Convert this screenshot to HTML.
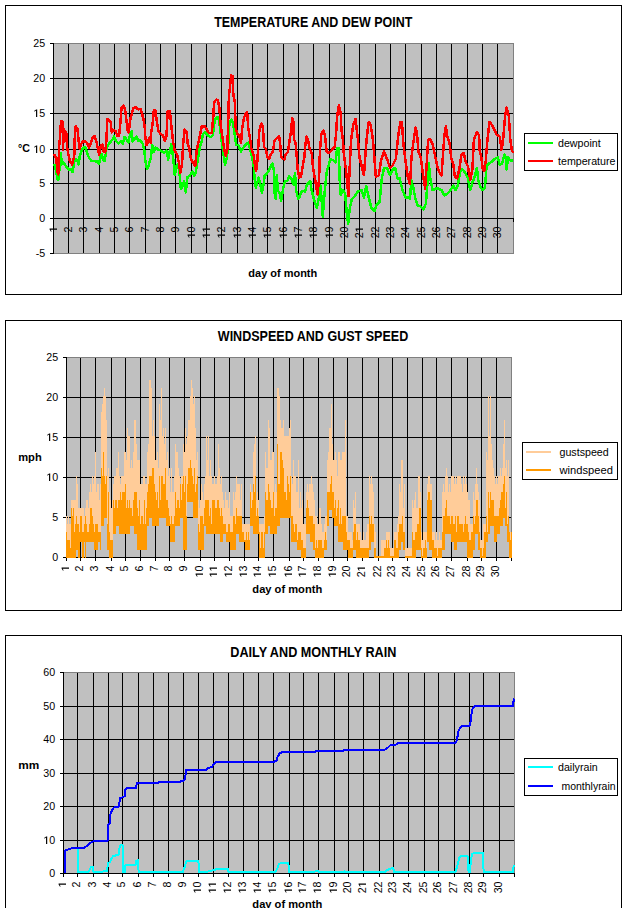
<!DOCTYPE html>
<html><head><meta charset="utf-8"><title>Weather charts</title>
<style>html,body{margin:0;padding:0;background:#fff;width:627px;height:908px;overflow:hidden}svg{display:block}</style>
</head><body>
<svg width="627" height="908" viewBox="0 0 627 908" font-family='"Liberation Sans", sans-serif' shape-rendering="crispEdges">
<rect x="0" y="0" width="627" height="908" fill="#fff"/>
<rect x="5" y="5" width="617" height="1" fill="#000"/>
<rect x="5" y="294" width="617" height="1" fill="#000"/>
<rect x="5" y="5" width="1" height="290" fill="#000"/>
<rect x="621" y="5" width="1" height="290" fill="#000"/>
<rect x="5" y="320" width="617" height="1" fill="#000"/>
<rect x="5" y="610" width="617" height="1" fill="#000"/>
<rect x="5" y="320" width="1" height="291" fill="#000"/>
<rect x="621" y="320" width="1" height="291" fill="#000"/>
<rect x="5" y="635" width="617" height="1" fill="#000"/>
<rect x="5" y="925" width="617" height="1" fill="#000"/>
<rect x="5" y="635" width="1" height="291" fill="#000"/>
<rect x="621" y="635" width="1" height="291" fill="#000"/>
<text x="313.3" y="26.7" font-size="14" font-weight="bold" text-anchor="middle" textLength="198.3" lengthAdjust="spacingAndGlyphs">TEMPERATURE AND DEW POINT</text>
<text x="313.0" y="340.9" font-size="14" font-weight="bold" text-anchor="middle" textLength="190.4" lengthAdjust="spacingAndGlyphs">WINDSPEED AND GUST SPEED</text>
<text x="313.3" y="656.7" font-size="14" font-weight="bold" text-anchor="middle" textLength="166" lengthAdjust="spacingAndGlyphs">DAILY AND MONTHLY RAIN</text>
<rect x="53" y="43" width="461" height="211" fill="#C0C0C0"/>
<rect x="53" y="43" width="461" height="1" fill="#808080"/>
<rect x="53" y="253" width="461" height="1" fill="#808080"/>
<rect x="53" y="43" width="1" height="211" fill="#808080"/>
<rect x="513" y="43" width="1" height="211" fill="#808080"/>
<rect x="54" y="78" width="459" height="1" fill="#000"/>
<rect x="54" y="113" width="459" height="1" fill="#000"/>
<rect x="54" y="149" width="459" height="1" fill="#000"/>
<rect x="54" y="183" width="459" height="1" fill="#000"/>
<rect x="68" y="44" width="1" height="209" fill="#000"/>
<rect x="83" y="44" width="1" height="209" fill="#000"/>
<rect x="99" y="44" width="1" height="209" fill="#000"/>
<rect x="114" y="44" width="1" height="209" fill="#000"/>
<rect x="129" y="44" width="1" height="209" fill="#000"/>
<rect x="145" y="44" width="1" height="209" fill="#000"/>
<rect x="160" y="44" width="1" height="209" fill="#000"/>
<rect x="175" y="44" width="1" height="209" fill="#000"/>
<rect x="191" y="44" width="1" height="209" fill="#000"/>
<rect x="206" y="44" width="1" height="209" fill="#000"/>
<rect x="221" y="44" width="1" height="209" fill="#000"/>
<rect x="237" y="44" width="1" height="209" fill="#000"/>
<rect x="252" y="44" width="1" height="209" fill="#000"/>
<rect x="267" y="44" width="1" height="209" fill="#000"/>
<rect x="283" y="44" width="1" height="209" fill="#000"/>
<rect x="298" y="44" width="1" height="209" fill="#000"/>
<rect x="313" y="44" width="1" height="209" fill="#000"/>
<rect x="329" y="44" width="1" height="209" fill="#000"/>
<rect x="344" y="44" width="1" height="209" fill="#000"/>
<rect x="359" y="44" width="1" height="209" fill="#000"/>
<rect x="375" y="44" width="1" height="209" fill="#000"/>
<rect x="390" y="44" width="1" height="209" fill="#000"/>
<rect x="405" y="44" width="1" height="209" fill="#000"/>
<rect x="421" y="44" width="1" height="209" fill="#000"/>
<rect x="436" y="44" width="1" height="209" fill="#000"/>
<rect x="451" y="44" width="1" height="209" fill="#000"/>
<rect x="467" y="44" width="1" height="209" fill="#000"/>
<rect x="482" y="44" width="1" height="209" fill="#000"/>
<rect x="497" y="44" width="1" height="209" fill="#000"/>
<rect x="53" y="218" width="461" height="1" fill="#000"/>
<rect x="513" y="219" width="1" height="3" fill="#000"/>
<rect x="53" y="43" width="1" height="211" fill="#000"/>
<rect x="50" y="43" width="3" height="1" fill="#000"/>
<rect x="50" y="78" width="3" height="1" fill="#000"/>
<rect x="50" y="113" width="3" height="1" fill="#000"/>
<rect x="50" y="149" width="3" height="1" fill="#000"/>
<rect x="50" y="183" width="3" height="1" fill="#000"/>
<rect x="50" y="218" width="3" height="1" fill="#000"/>
<rect x="50" y="253" width="3" height="1" fill="#000"/>
<g shape-rendering="crispEdges">
<polyline points="53.9,163.8 55.0,166.6 57.7,179.8 58.8,178.7 60.1,156.7 61.0,153.4 61.6,164.4 63.2,162.2 65.4,165.5 67.1,167.7 68.7,169.9 70.9,168.8 72.6,172.1 73.7,165.5 74.8,158.9 77.0,160.0 78.6,164.4 79.7,156.7 81.4,151.2 83.0,147.9 85.2,146.8 87.4,153.4 89.0,157.8 91.8,161.1 94.2,161.1 97.0,161.6 99.2,163.8 100.3,156.7 101.9,154.5 103.0,160.0 104.7,161.1 106.3,150.1 108.0,145.1 110.2,142.4 112.4,139.6 114.0,136.3 115.7,140.7 118.4,143.5 120.6,141.3 122.8,143.5 124.5,136.8 126.1,139.0 128.3,142.4 130.0,134.6 131.6,131.3 132.7,141.3 134.4,139.0 136.6,136.8 138.2,141.3 140.4,140.2 142.6,143.5 144.3,150.1 145.4,161.1 147.0,168.8 148.7,165.5 149.8,161.1 150.6,159.5 152.2,145.2 153.9,151.8 155.5,147.4 158.3,149.6 161.0,150.7 163.8,152.9 166.5,150.7 168.2,159.5 169.8,150.7 171.5,144.0 173.1,157.3 174.8,174.9 176.5,166.1 178.1,163.9 179.8,176.0 180.9,189.2 182.5,185.9 184.2,181.5 185.8,192.5 187.5,177.1 189.7,176.0 192.4,171.6 194.1,176.0 195.7,172.7 197.4,161.7 199.6,148.5 201.8,140.7 203.0,133.9 205.2,132.2 207.4,135.0 210.7,137.2 212.9,135.0 214.6,120.7 216.8,116.8 218.4,117.4 220.1,128.4 221.7,141.6 223.4,153.7 225.0,164.7 226.7,158.1 228.1,147.1 229.5,121.8 231.7,119.6 233.3,125.1 235.0,136.1 236.1,144.9 238.3,144.9 241.0,151.5 243.8,147.1 246.5,143.8 248.2,142.7 250.4,150.4 252.0,157.0 253.7,166.7 254.8,179.9 255.9,187.6 257.5,182.1 258.6,177.7 260.3,184.3 261.9,193.1 263.6,184.3 264.7,175.5 266.3,174.4 268.5,171.1 270.7,166.7 272.4,163.4 274.0,171.1 274.6,193.1 275.7,198.6 276.8,175.5 277.9,190.9 279.6,193.1 281.2,200.8 282.9,189.8 285.1,181.0 287.3,181.0 288.9,176.6 291.1,177.7 293.3,184.3 295.0,173.3 296.1,190.9 298.3,198.6 299.9,196.4 301.0,192.0 303.3,190.9 305.0,191.6 307.2,184.2 310.2,181.2 311.7,190.2 313.9,199.1 316.9,208.0 319.1,196.1 320.6,185.7 322.8,216.9 324.3,196.1 326.6,172.3 328.8,164.9 330.3,158.9 333.2,160.4 335.5,162.6 337.0,148.5 338.9,147.8 339.5,176.8 340.7,194.6 342.9,190.2 345.1,193.1 346.6,211.0 348.1,224.3 349.6,209.5 351.8,199.1 354.8,196.1 357.8,191.6 361.7,190.2 364.0,197.6 366.2,185.7 368.4,196.1 371.4,208.0 374.4,211.0 376.6,205.0 379.6,202.0 381.8,178.3 384.0,167.9 387.0,167.9 390.0,175.3 392.9,169.3 395.2,167.9 397.4,178.3 399.6,178.3 402.6,190.2 405.6,197.6 408.5,197.6 410.0,199.1 410.8,187.2 411.0,179.7 413.2,187.2 415.5,199.1 417.7,205.8 420.7,206.5 423.6,209.5 425.9,203.5 427.4,184.2 428.8,163.4 430.3,178.3 432.6,190.2 435.5,188.7 438.5,188.7 441.5,190.2 444.4,195.4 447.4,193.9 450.4,190.2 453.4,185.7 455.6,190.2 457.8,185.7 460.1,172.3 462.3,169.3 465.0,172.3 467.9,178.3 470.2,190.2 472.4,182.7 474.6,176.8 476.9,167.9 478.4,181.2 480.6,187.2 482.8,190.2 485.0,187.2 486.5,166.4 488.8,163.4 491.7,161.9 494.7,158.9 497.7,157.4 499.9,164.9 502.1,163.4 504.4,154.5 505.9,157.4 506.6,169.3 508.1,157.4 510.3,160.4 513.3,160.4" fill="none" stroke="#00FF00" stroke-width="2.5" stroke-linejoin="round" stroke-linecap="butt"/>
<polyline points="53.9,153.9 55.5,156.7 56.6,161.0 57.2,172.0 58.3,174.3 59.0,147.9 59.9,139.0 61.0,121.4 62.3,121.4 62.7,128.0 63.0,150.0 63.8,129.0 64.9,131.3 66.3,133.5 67.0,146.8 68.2,153.4 69.8,161.0 72.0,164.4 73.1,161.0 74.2,156.7 75.1,128.0 75.9,126.4 77.5,129.1 78.8,142.4 79.7,149.0 81.4,143.5 83.0,141.3 85.2,141.3 87.4,143.5 89.0,147.9 90.7,143.5 92.9,136.8 94.8,136.3 96.4,141.3 98.1,150.0 99.2,154.5 100.8,145.7 102.5,144.6 103.6,151.2 105.2,152.3 106.3,141.3 107.4,119.2 109.1,120.3 110.7,122.5 111.8,132.4 113.5,130.2 115.7,131.3 117.3,135.7 119.0,136.3 120.4,122.5 121.5,108.2 123.4,105.5 125.0,109.3 126.7,122.5 127.8,131.3 128.9,132.4 130.0,120.3 131.6,114.8 133.3,108.2 135.5,107.1 138.2,109.3 140.4,108.8 142.1,113.7 143.7,120.3 144.8,128.0 145.4,138.0 146.5,145.1 148.1,141.3 149.8,136.8 150.6,143.0 151.1,133.0 152.8,122.0 153.9,109.9 155.5,110.5 156.6,119.8 158.3,130.8 160.5,134.1 162.7,135.2 164.9,140.7 166.5,136.3 167.6,111.0 169.8,111.0 171.5,127.5 173.1,141.9 174.8,150.7 177.0,154.0 178.7,161.7 180.3,172.7 182.0,165.0 183.1,144.0 184.7,129.7 186.9,131.9 187.5,143.0 189.1,147.4 190.8,158.4 193.0,162.8 195.2,166.1 196.8,149.6 199.6,137.4 201.8,126.4 203.0,126.7 204.7,126.2 206.3,128.4 208.5,132.8 211.8,132.8 213.5,114.0 214.0,103.0 216.2,99.7 217.9,100.3 219.5,108.5 220.6,125.1 222.3,136.1 223.9,147.1 225.6,155.9 227.2,151.5 228.1,125.1 228.9,96.4 230.0,86.5 231.1,75.5 232.8,76.0 233.3,94.2 235.0,103.0 235.5,127.3 237.2,133.9 239.4,136.1 241.0,142.7 242.1,129.5 243.8,118.5 245.4,114.0 247.1,111.9 248.2,127.3 249.8,137.2 251.5,149.3 253.7,155.9 254.5,162.0 255.9,171.1 257.0,166.7 258.1,149.0 259.2,132.5 260.3,125.9 261.9,123.7 263.0,129.2 264.1,146.8 265.8,149.0 267.4,156.8 269.1,159.0 270.7,154.6 272.9,151.3 274.6,140.2 276.8,138.0 279.0,135.8 280.1,143.5 281.2,156.8 282.9,159.0 284.5,159.5 285.6,154.6 287.8,152.4 288.9,145.7 290.0,138.0 291.1,130.3 292.2,117.7 293.3,121.5 293.9,139.1 295.5,142.4 296.6,154.6 297.7,170.0 299.4,177.7 301.0,176.6 302.7,166.7 304.4,156.8 305.5,143.5 306.5,136.6 308.0,139.6 309.5,148.5 311.7,153.0 313.2,169.3 315.4,181.2 317.6,194.6 319.1,178.3 319.9,151.5 321.4,133.7 323.6,130.7 325.1,136.6 326.6,151.5 328.8,153.0 331.8,150.0 334.7,147.0 336.2,132.2 337.0,117.3 338.9,105.4 340.7,112.8 341.4,129.2 342.9,139.6 343.9,154.5 345.9,169.3 347.4,184.2 348.4,196.1 349.6,169.3 351.1,139.6 353.3,124.7 355.5,118.8 357.0,132.2 358.0,139.6 359.5,157.4 361.7,166.4 364.0,175.3 365.4,154.5 366.9,136.6 368.7,121.8 370.6,124.7 372.9,139.6 374.4,157.4 375.8,176.8 378.8,175.3 381.0,160.4 384.0,151.5 387.0,158.9 390.0,167.9 392.9,164.9 395.9,158.9 398.1,136.6 400.4,121.8 401.9,121.8 403.3,142.6 405.6,161.9 407.8,176.8 410.0,184.2 411.5,157.4 412.5,148.5 414.0,138.1 415.5,127.7 416.9,132.2 418.4,151.5 420.7,157.4 422.9,173.8 425.1,188.7 426.6,166.4 428.1,139.6 430.3,139.6 432.6,144.1 434.8,154.5 437.0,164.9 439.2,172.3 441.5,175.3 443.0,154.5 444.4,135.1 445.9,126.2 447.4,136.6 449.7,144.1 451.1,157.4 453.4,164.9 454.9,176.8 457.1,178.3 459.3,169.3 461.5,154.5 463.8,153.0 465.7,161.9 467.9,166.4 470.2,179.7 472.4,169.3 473.9,139.6 476.9,132.2 479.1,135.1 479.8,151.5 481.3,157.4 482.8,169.3 484.3,170.8 485.8,160.4 487.3,141.1 489.5,121.8 491.7,124.7 494.0,129.2 496.9,135.1 499.9,136.6 501.4,150.0 502.9,142.6 505.1,115.8 506.6,107.6 508.8,115.8 510.3,139.6 511.8,150.0 513.3,153.0" fill="none" stroke="#FF0000" stroke-width="2.5" stroke-linejoin="round" stroke-linecap="butt"/>
</g>
<text x="33.33" y="46.9" font-size="10.67">2</text><text x="39.27" y="46.9" font-size="10.67">5</text>
<text x="33.33" y="81.9" font-size="10.67">2</text><text x="39.27" y="81.9" font-size="10.67">0</text>
<path d="M520,0L520,1230L190,1000L190,1185L545,1420L745,1420L745,0Z" transform="translate(33.33,116.9) scale(0.005210,-0.005210)" fill="#000" shape-rendering="auto"/><text x="39.27" y="116.9" font-size="10.67">5</text>
<path d="M520,0L520,1230L190,1000L190,1185L545,1420L745,1420L745,0Z" transform="translate(33.33,152.9) scale(0.005210,-0.005210)" fill="#000" shape-rendering="auto"/><text x="39.27" y="152.9" font-size="10.67">0</text>
<text x="39.27" y="186.9" font-size="10.67">5</text>
<text x="39.27" y="221.9" font-size="10.67">0</text>
<text x="45.2" y="256.9" font-size="10.67" text-anchor="end">-5</text>
<g transform="translate(57,226.5) rotate(-90)"><path d="M520,0L520,1230L190,1000L190,1185L545,1420L745,1420L745,0Z" transform="translate(-5.93,0) scale(0.005210,-0.005210)" fill="#000" shape-rendering="auto"/></g>
<g transform="translate(72,226.5) rotate(-90)"><text x="-5.93" y="0" font-size="10.67">2</text></g>
<g transform="translate(87,226.5) rotate(-90)"><text x="-5.93" y="0" font-size="10.67">3</text></g>
<g transform="translate(103,226.5) rotate(-90)"><text x="-5.93" y="0" font-size="10.67">4</text></g>
<g transform="translate(118,226.5) rotate(-90)"><text x="-5.93" y="0" font-size="10.67">5</text></g>
<g transform="translate(133,226.5) rotate(-90)"><text x="-5.93" y="0" font-size="10.67">6</text></g>
<g transform="translate(149,226.5) rotate(-90)"><text x="-5.93" y="0" font-size="10.67">7</text></g>
<g transform="translate(164,226.5) rotate(-90)"><text x="-5.93" y="0" font-size="10.67">8</text></g>
<g transform="translate(179,226.5) rotate(-90)"><text x="-5.93" y="0" font-size="10.67">9</text></g>
<g transform="translate(195,226.5) rotate(-90)"><path d="M520,0L520,1230L190,1000L190,1185L545,1420L745,1420L745,0Z" transform="translate(-11.87,0) scale(0.005210,-0.005210)" fill="#000" shape-rendering="auto"/><text x="-5.93" y="0" font-size="10.67">0</text></g>
<g transform="translate(210,226.5) rotate(-90)"><path d="M520,0L520,1230L190,1000L190,1185L545,1420L745,1420L745,0Z" transform="translate(-11.87,0) scale(0.005210,-0.005210)" fill="#000" shape-rendering="auto"/><path d="M520,0L520,1230L190,1000L190,1185L545,1420L745,1420L745,0Z" transform="translate(-5.93,0) scale(0.005210,-0.005210)" fill="#000" shape-rendering="auto"/></g>
<g transform="translate(225,226.5) rotate(-90)"><path d="M520,0L520,1230L190,1000L190,1185L545,1420L745,1420L745,0Z" transform="translate(-11.87,0) scale(0.005210,-0.005210)" fill="#000" shape-rendering="auto"/><text x="-5.93" y="0" font-size="10.67">2</text></g>
<g transform="translate(241,226.5) rotate(-90)"><path d="M520,0L520,1230L190,1000L190,1185L545,1420L745,1420L745,0Z" transform="translate(-11.87,0) scale(0.005210,-0.005210)" fill="#000" shape-rendering="auto"/><text x="-5.93" y="0" font-size="10.67">3</text></g>
<g transform="translate(256,226.5) rotate(-90)"><path d="M520,0L520,1230L190,1000L190,1185L545,1420L745,1420L745,0Z" transform="translate(-11.87,0) scale(0.005210,-0.005210)" fill="#000" shape-rendering="auto"/><text x="-5.93" y="0" font-size="10.67">4</text></g>
<g transform="translate(271,226.5) rotate(-90)"><path d="M520,0L520,1230L190,1000L190,1185L545,1420L745,1420L745,0Z" transform="translate(-11.87,0) scale(0.005210,-0.005210)" fill="#000" shape-rendering="auto"/><text x="-5.93" y="0" font-size="10.67">5</text></g>
<g transform="translate(287,226.5) rotate(-90)"><path d="M520,0L520,1230L190,1000L190,1185L545,1420L745,1420L745,0Z" transform="translate(-11.87,0) scale(0.005210,-0.005210)" fill="#000" shape-rendering="auto"/><text x="-5.93" y="0" font-size="10.67">6</text></g>
<g transform="translate(302,226.5) rotate(-90)"><path d="M520,0L520,1230L190,1000L190,1185L545,1420L745,1420L745,0Z" transform="translate(-11.87,0) scale(0.005210,-0.005210)" fill="#000" shape-rendering="auto"/><text x="-5.93" y="0" font-size="10.67">7</text></g>
<g transform="translate(317,226.5) rotate(-90)"><path d="M520,0L520,1230L190,1000L190,1185L545,1420L745,1420L745,0Z" transform="translate(-11.87,0) scale(0.005210,-0.005210)" fill="#000" shape-rendering="auto"/><text x="-5.93" y="0" font-size="10.67">8</text></g>
<g transform="translate(333,226.5) rotate(-90)"><path d="M520,0L520,1230L190,1000L190,1185L545,1420L745,1420L745,0Z" transform="translate(-11.87,0) scale(0.005210,-0.005210)" fill="#000" shape-rendering="auto"/><text x="-5.93" y="0" font-size="10.67">9</text></g>
<g transform="translate(348,226.5) rotate(-90)"><text x="-11.87" y="0" font-size="10.67">2</text><text x="-5.93" y="0" font-size="10.67">0</text></g>
<g transform="translate(363,226.5) rotate(-90)"><text x="-11.87" y="0" font-size="10.67">2</text><path d="M520,0L520,1230L190,1000L190,1185L545,1420L745,1420L745,0Z" transform="translate(-5.93,0) scale(0.005210,-0.005210)" fill="#000" shape-rendering="auto"/></g>
<g transform="translate(379,226.5) rotate(-90)"><text x="-11.87" y="0" font-size="10.67">2</text><text x="-5.93" y="0" font-size="10.67">2</text></g>
<g transform="translate(394,226.5) rotate(-90)"><text x="-11.87" y="0" font-size="10.67">2</text><text x="-5.93" y="0" font-size="10.67">3</text></g>
<g transform="translate(409,226.5) rotate(-90)"><text x="-11.87" y="0" font-size="10.67">2</text><text x="-5.93" y="0" font-size="10.67">4</text></g>
<g transform="translate(425,226.5) rotate(-90)"><text x="-11.87" y="0" font-size="10.67">2</text><text x="-5.93" y="0" font-size="10.67">5</text></g>
<g transform="translate(440,226.5) rotate(-90)"><text x="-11.87" y="0" font-size="10.67">2</text><text x="-5.93" y="0" font-size="10.67">6</text></g>
<g transform="translate(455,226.5) rotate(-90)"><text x="-11.87" y="0" font-size="10.67">2</text><text x="-5.93" y="0" font-size="10.67">7</text></g>
<g transform="translate(471,226.5) rotate(-90)"><text x="-11.87" y="0" font-size="10.67">2</text><text x="-5.93" y="0" font-size="10.67">8</text></g>
<g transform="translate(486,226.5) rotate(-90)"><text x="-11.87" y="0" font-size="10.67">2</text><text x="-5.93" y="0" font-size="10.67">9</text></g>
<g transform="translate(501,226.5) rotate(-90)"><text x="-11.87" y="0" font-size="10.67">3</text><text x="-5.93" y="0" font-size="10.67">0</text></g>
<text x="18" y="152" font-size="10.67" font-weight="bold" text-anchor="start">&#176;C</text>
<text x="282.8" y="277" font-size="10.67" font-weight="bold" text-anchor="middle" textLength="68.9" lengthAdjust="spacingAndGlyphs">day of month</text>
<rect x="524" y="133" width="94" height="38" fill="#fff"/>
<rect x="524" y="133" width="94" height="1" fill="#000"/>
<rect x="524" y="170" width="94" height="1" fill="#000"/>
<rect x="524" y="133" width="1" height="38" fill="#000"/>
<rect x="617" y="133" width="1" height="38" fill="#000"/>
<rect x="528" y="142" width="25" height="2" fill="#00FF00"/>
<text x="558" y="146.9" font-size="10.67" text-anchor="start">dewpoint</text>
<rect x="528" y="160" width="25" height="2" fill="#FF0000"/>
<text x="558" y="164.9" font-size="10.67" text-anchor="start">temperature</text>
<rect x="66" y="357" width="446" height="201" fill="#C0C0C0"/>
<rect x="66" y="357" width="446" height="1" fill="#808080"/>
<rect x="66" y="557" width="446" height="1" fill="#808080"/>
<rect x="66" y="357" width="1" height="201" fill="#808080"/>
<rect x="511" y="357" width="1" height="201" fill="#808080"/>
<rect x="67" y="397" width="444" height="1" fill="#000"/>
<rect x="67" y="437" width="444" height="1" fill="#000"/>
<rect x="67" y="477" width="444" height="1" fill="#000"/>
<rect x="67" y="517" width="444" height="1" fill="#000"/>
<rect x="80" y="358" width="1" height="199" fill="#000"/>
<rect x="95" y="358" width="1" height="199" fill="#000"/>
<rect x="111" y="358" width="1" height="199" fill="#000"/>
<rect x="125" y="358" width="1" height="199" fill="#000"/>
<rect x="140" y="358" width="1" height="199" fill="#000"/>
<rect x="155" y="358" width="1" height="199" fill="#000"/>
<rect x="169" y="358" width="1" height="199" fill="#000"/>
<rect x="184" y="358" width="1" height="199" fill="#000"/>
<rect x="200" y="358" width="1" height="199" fill="#000"/>
<rect x="214" y="358" width="1" height="199" fill="#000"/>
<rect x="229" y="358" width="1" height="199" fill="#000"/>
<rect x="244" y="358" width="1" height="199" fill="#000"/>
<rect x="258" y="358" width="1" height="199" fill="#000"/>
<rect x="273" y="358" width="1" height="199" fill="#000"/>
<rect x="289" y="358" width="1" height="199" fill="#000"/>
<rect x="303" y="358" width="1" height="199" fill="#000"/>
<rect x="318" y="358" width="1" height="199" fill="#000"/>
<rect x="333" y="358" width="1" height="199" fill="#000"/>
<rect x="347" y="358" width="1" height="199" fill="#000"/>
<rect x="362" y="358" width="1" height="199" fill="#000"/>
<rect x="378" y="358" width="1" height="199" fill="#000"/>
<rect x="392" y="358" width="1" height="199" fill="#000"/>
<rect x="407" y="358" width="1" height="199" fill="#000"/>
<rect x="422" y="358" width="1" height="199" fill="#000"/>
<rect x="436" y="358" width="1" height="199" fill="#000"/>
<rect x="451" y="358" width="1" height="199" fill="#000"/>
<rect x="467" y="358" width="1" height="199" fill="#000"/>
<rect x="481" y="358" width="1" height="199" fill="#000"/>
<rect x="496" y="358" width="1" height="199" fill="#000"/>
<rect x="66" y="557" width="446" height="1" fill="#000"/>
<rect x="66" y="357" width="1" height="201" fill="#000"/>
<rect x="63" y="357" width="3" height="1" fill="#000"/>
<rect x="63" y="397" width="3" height="1" fill="#000"/>
<rect x="63" y="437" width="3" height="1" fill="#000"/>
<rect x="63" y="477" width="3" height="1" fill="#000"/>
<rect x="63" y="517" width="3" height="1" fill="#000"/>
<rect x="63" y="557" width="3" height="1" fill="#000"/>
<rect x="66" y="516" width="1" height="17" fill="#FFCC99"/>
<rect x="67" y="524" width="1" height="17" fill="#FFCC99"/>
<rect x="68" y="516" width="1" height="25" fill="#FFCC99"/>
<rect x="69" y="524" width="1" height="17" fill="#FFCC99"/>
<rect x="70" y="524" width="1" height="25" fill="#FFCC99"/>
<rect x="71" y="500" width="1" height="9" fill="#FFCC99"/>
<rect x="72" y="500" width="1" height="17" fill="#FFCC99"/>
<rect x="73" y="500" width="1" height="9" fill="#FFCC99"/>
<rect x="74" y="500" width="1" height="33" fill="#FFCC99"/>
<rect x="75" y="500" width="1" height="25" fill="#FFCC99"/>
<rect x="76" y="476" width="1" height="41" fill="#FFCC99"/>
<rect x="77" y="484" width="1" height="41" fill="#FFCC99"/>
<rect x="78" y="508" width="1" height="17" fill="#FFCC99"/>
<rect x="79" y="508" width="1" height="25" fill="#FFCC99"/>
<rect x="80" y="508" width="1" height="9" fill="#FFCC99"/>
<rect x="81" y="508" width="1" height="9" fill="#FFCC99"/>
<rect x="82" y="508" width="1" height="25" fill="#FFCC99"/>
<rect x="83" y="508" width="1" height="25" fill="#FFCC99"/>
<rect x="84" y="516" width="1" height="9" fill="#FFCC99"/>
<rect x="85" y="508" width="1" height="9" fill="#FFCC99"/>
<rect x="86" y="500" width="1" height="25" fill="#FFCC99"/>
<rect x="87" y="500" width="1" height="33" fill="#FFCC99"/>
<rect x="88" y="508" width="1" height="25" fill="#FFCC99"/>
<rect x="89" y="492" width="1" height="33" fill="#FFCC99"/>
<rect x="90" y="484" width="1" height="25" fill="#FFCC99"/>
<rect x="91" y="492" width="1" height="17" fill="#FFCC99"/>
<rect x="92" y="476" width="1" height="41" fill="#FFCC99"/>
<rect x="93" y="484" width="1" height="41" fill="#FFCC99"/>
<rect x="94" y="476" width="1" height="57" fill="#FFCC99"/>
<rect x="95" y="452" width="1" height="73" fill="#FFCC99"/>
<rect x="96" y="492" width="1" height="33" fill="#FFCC99"/>
<rect x="97" y="484" width="1" height="41" fill="#FFCC99"/>
<rect x="98" y="484" width="1" height="49" fill="#FFCC99"/>
<rect x="99" y="500" width="1" height="33" fill="#FFCC99"/>
<rect x="100" y="484" width="1" height="49" fill="#FFCC99"/>
<rect x="101" y="412" width="1" height="57" fill="#FFCC99"/>
<rect x="102" y="404" width="1" height="73" fill="#FFCC99"/>
<rect x="103" y="396" width="1" height="57" fill="#FFCC99"/>
<rect x="104" y="388" width="1" height="89" fill="#FFCC99"/>
<rect x="105" y="396" width="1" height="89" fill="#FFCC99"/>
<rect x="106" y="420" width="1" height="57" fill="#FFCC99"/>
<rect x="107" y="476" width="1" height="49" fill="#FFCC99"/>
<rect x="108" y="468" width="1" height="25" fill="#FFCC99"/>
<rect x="109" y="492" width="1" height="41" fill="#FFCC99"/>
<rect x="110" y="500" width="1" height="41" fill="#FFCC99"/>
<rect x="111" y="508" width="1" height="33" fill="#FFCC99"/>
<rect x="112" y="500" width="1" height="41" fill="#FFCC99"/>
<rect x="113" y="484" width="1" height="17" fill="#FFCC99"/>
<rect x="114" y="476" width="1" height="33" fill="#FFCC99"/>
<rect x="115" y="476" width="1" height="25" fill="#FFCC99"/>
<rect x="116" y="468" width="1" height="33" fill="#FFCC99"/>
<rect x="117" y="468" width="1" height="41" fill="#FFCC99"/>
<rect x="118" y="452" width="1" height="49" fill="#FFCC99"/>
<rect x="119" y="476" width="1" height="25" fill="#FFCC99"/>
<rect x="120" y="484" width="1" height="9" fill="#FFCC99"/>
<rect x="121" y="476" width="1" height="25" fill="#FFCC99"/>
<rect x="122" y="476" width="1" height="17" fill="#FFCC99"/>
<rect x="123" y="476" width="1" height="17" fill="#FFCC99"/>
<rect x="124" y="452" width="1" height="41" fill="#FFCC99"/>
<rect x="125" y="452" width="1" height="33" fill="#FFCC99"/>
<rect x="126" y="460" width="1" height="49" fill="#FFCC99"/>
<rect x="127" y="428" width="1" height="73" fill="#FFCC99"/>
<rect x="128" y="436" width="1" height="73" fill="#FFCC99"/>
<rect x="129" y="436" width="1" height="65" fill="#FFCC99"/>
<rect x="130" y="468" width="1" height="41" fill="#FFCC99"/>
<rect x="131" y="460" width="1" height="49" fill="#FFCC99"/>
<rect x="132" y="468" width="1" height="49" fill="#FFCC99"/>
<rect x="133" y="452" width="1" height="49" fill="#FFCC99"/>
<rect x="134" y="420" width="1" height="73" fill="#FFCC99"/>
<rect x="135" y="420" width="1" height="73" fill="#FFCC99"/>
<rect x="136" y="444" width="1" height="49" fill="#FFCC99"/>
<rect x="137" y="460" width="1" height="49" fill="#FFCC99"/>
<rect x="138" y="460" width="1" height="57" fill="#FFCC99"/>
<rect x="139" y="460" width="1" height="41" fill="#FFCC99"/>
<rect x="140" y="484" width="1" height="41" fill="#FFCC99"/>
<rect x="141" y="484" width="1" height="33" fill="#FFCC99"/>
<rect x="142" y="484" width="1" height="33" fill="#FFCC99"/>
<rect x="143" y="476" width="1" height="49" fill="#FFCC99"/>
<rect x="144" y="476" width="1" height="25" fill="#FFCC99"/>
<rect x="145" y="484" width="1" height="41" fill="#FFCC99"/>
<rect x="146" y="484" width="1" height="25" fill="#FFCC99"/>
<rect x="147" y="452" width="1" height="41" fill="#FFCC99"/>
<rect x="148" y="444" width="1" height="41" fill="#FFCC99"/>
<rect x="149" y="380" width="1" height="97" fill="#FFCC99"/>
<rect x="150" y="380" width="1" height="97" fill="#FFCC99"/>
<rect x="151" y="388" width="1" height="89" fill="#FFCC99"/>
<rect x="152" y="436" width="1" height="33" fill="#FFCC99"/>
<rect x="153" y="420" width="1" height="49" fill="#FFCC99"/>
<rect x="154" y="436" width="1" height="49" fill="#FFCC99"/>
<rect x="155" y="460" width="1" height="33" fill="#FFCC99"/>
<rect x="156" y="460" width="1" height="41" fill="#FFCC99"/>
<rect x="157" y="452" width="1" height="41" fill="#FFCC99"/>
<rect x="158" y="468" width="1" height="41" fill="#FFCC99"/>
<rect x="159" y="404" width="1" height="73" fill="#FFCC99"/>
<rect x="160" y="420" width="1" height="81" fill="#FFCC99"/>
<rect x="161" y="388" width="1" height="89" fill="#FFCC99"/>
<rect x="162" y="436" width="1" height="41" fill="#FFCC99"/>
<rect x="163" y="428" width="1" height="57" fill="#FFCC99"/>
<rect x="164" y="444" width="1" height="41" fill="#FFCC99"/>
<rect x="165" y="428" width="1" height="41" fill="#FFCC99"/>
<rect x="166" y="460" width="1" height="41" fill="#FFCC99"/>
<rect x="167" y="452" width="1" height="49" fill="#FFCC99"/>
<rect x="168" y="476" width="1" height="33" fill="#FFCC99"/>
<rect x="169" y="468" width="1" height="49" fill="#FFCC99"/>
<rect x="170" y="492" width="1" height="33" fill="#FFCC99"/>
<rect x="171" y="468" width="1" height="49" fill="#FFCC99"/>
<rect x="172" y="492" width="1" height="33" fill="#FFCC99"/>
<rect x="173" y="492" width="1" height="33" fill="#FFCC99"/>
<rect x="174" y="476" width="1" height="41" fill="#FFCC99"/>
<rect x="175" y="444" width="1" height="49" fill="#FFCC99"/>
<rect x="176" y="452" width="1" height="57" fill="#FFCC99"/>
<rect x="177" y="452" width="1" height="49" fill="#FFCC99"/>
<rect x="178" y="468" width="1" height="33" fill="#FFCC99"/>
<rect x="179" y="476" width="1" height="33" fill="#FFCC99"/>
<rect x="180" y="484" width="1" height="1" fill="#FFCC99"/>
<rect x="181" y="476" width="1" height="25" fill="#FFCC99"/>
<rect x="182" y="476" width="1" height="9" fill="#FFCC99"/>
<rect x="183" y="444" width="1" height="33" fill="#FFCC99"/>
<rect x="184" y="452" width="1" height="41" fill="#FFCC99"/>
<rect x="185" y="428" width="1" height="49" fill="#FFCC99"/>
<rect x="186" y="444" width="1" height="73" fill="#FFCC99"/>
<rect x="187" y="436" width="1" height="49" fill="#FFCC99"/>
<rect x="188" y="420" width="1" height="49" fill="#FFCC99"/>
<rect x="189" y="420" width="1" height="49" fill="#FFCC99"/>
<rect x="190" y="396" width="1" height="65" fill="#FFCC99"/>
<rect x="191" y="380" width="1" height="89" fill="#FFCC99"/>
<rect x="192" y="388" width="1" height="89" fill="#FFCC99"/>
<rect x="193" y="404" width="1" height="81" fill="#FFCC99"/>
<rect x="194" y="396" width="1" height="73" fill="#FFCC99"/>
<rect x="195" y="428" width="1" height="65" fill="#FFCC99"/>
<rect x="196" y="460" width="1" height="25" fill="#FFCC99"/>
<rect x="197" y="452" width="1" height="25" fill="#FFCC99"/>
<rect x="198" y="500" width="1" height="25" fill="#FFCC99"/>
<rect x="199" y="508" width="1" height="25" fill="#FFCC99"/>
<rect x="200" y="500" width="1" height="17" fill="#FFCC99"/>
<rect x="201" y="484" width="1" height="33" fill="#FFCC99"/>
<rect x="202" y="492" width="1" height="25" fill="#FFCC99"/>
<rect x="203" y="500" width="1" height="25" fill="#FFCC99"/>
<rect x="204" y="484" width="1" height="25" fill="#FFCC99"/>
<rect x="205" y="476" width="1" height="25" fill="#FFCC99"/>
<rect x="206" y="436" width="1" height="65" fill="#FFCC99"/>
<rect x="207" y="460" width="1" height="41" fill="#FFCC99"/>
<rect x="208" y="436" width="1" height="65" fill="#FFCC99"/>
<rect x="209" y="476" width="1" height="41" fill="#FFCC99"/>
<rect x="210" y="460" width="1" height="49" fill="#FFCC99"/>
<rect x="211" y="476" width="1" height="49" fill="#FFCC99"/>
<rect x="212" y="484" width="1" height="17" fill="#FFCC99"/>
<rect x="213" y="484" width="1" height="17" fill="#FFCC99"/>
<rect x="214" y="476" width="1" height="25" fill="#FFCC99"/>
<rect x="215" y="484" width="1" height="25" fill="#FFCC99"/>
<rect x="216" y="484" width="1" height="25" fill="#FFCC99"/>
<rect x="217" y="476" width="1" height="25" fill="#FFCC99"/>
<rect x="218" y="444" width="1" height="57" fill="#FFCC99"/>
<rect x="219" y="468" width="1" height="41" fill="#FFCC99"/>
<rect x="220" y="484" width="1" height="33" fill="#FFCC99"/>
<rect x="221" y="476" width="1" height="33" fill="#FFCC99"/>
<rect x="222" y="492" width="1" height="25" fill="#FFCC99"/>
<rect x="223" y="500" width="1" height="25" fill="#FFCC99"/>
<rect x="224" y="508" width="1" height="17" fill="#FFCC99"/>
<rect x="225" y="492" width="1" height="33" fill="#FFCC99"/>
<rect x="226" y="500" width="1" height="33" fill="#FFCC99"/>
<rect x="227" y="500" width="1" height="33" fill="#FFCC99"/>
<rect x="228" y="508" width="1" height="17" fill="#FFCC99"/>
<rect x="229" y="492" width="1" height="33" fill="#FFCC99"/>
<rect x="230" y="516" width="1" height="17" fill="#FFCC99"/>
<rect x="231" y="516" width="1" height="17" fill="#FFCC99"/>
<rect x="232" y="516" width="1" height="17" fill="#FFCC99"/>
<rect x="233" y="492" width="1" height="25" fill="#FFCC99"/>
<rect x="234" y="500" width="1" height="17" fill="#FFCC99"/>
<rect x="235" y="492" width="1" height="33" fill="#FFCC99"/>
<rect x="236" y="476" width="1" height="33" fill="#FFCC99"/>
<rect x="237" y="484" width="1" height="33" fill="#FFCC99"/>
<rect x="238" y="484" width="1" height="33" fill="#FFCC99"/>
<rect x="239" y="484" width="1" height="33" fill="#FFCC99"/>
<rect x="240" y="500" width="1" height="17" fill="#FFCC99"/>
<rect x="241" y="484" width="1" height="33" fill="#FFCC99"/>
<rect x="242" y="524" width="1" height="9" fill="#FFCC99"/>
<rect x="243" y="524" width="1" height="9" fill="#FFCC99"/>
<rect x="244" y="524" width="1" height="17" fill="#FFCC99"/>
<rect x="245" y="524" width="1" height="17" fill="#FFCC99"/>
<rect x="246" y="524" width="1" height="9" fill="#FFCC99"/>
<rect x="247" y="524" width="1" height="17" fill="#FFCC99"/>
<rect x="248" y="524" width="1" height="9" fill="#FFCC99"/>
<rect x="249" y="524" width="1" height="17" fill="#FFCC99"/>
<rect x="250" y="484" width="1" height="9" fill="#FFCC99"/>
<rect x="251" y="492" width="1" height="17" fill="#FFCC99"/>
<rect x="252" y="492" width="1" height="9" fill="#FFCC99"/>
<rect x="253" y="452" width="1" height="33" fill="#FFCC99"/>
<rect x="254" y="444" width="1" height="49" fill="#FFCC99"/>
<rect x="255" y="436" width="1" height="41" fill="#FFCC99"/>
<rect x="256" y="500" width="1" height="17" fill="#FFCC99"/>
<rect x="257" y="492" width="1" height="17" fill="#FFCC99"/>
<rect x="258" y="500" width="1" height="17" fill="#FFCC99"/>
<rect x="259" y="524" width="1" height="9" fill="#FFCC99"/>
<rect x="260" y="524" width="1" height="25" fill="#FFCC99"/>
<rect x="261" y="524" width="1" height="9" fill="#FFCC99"/>
<rect x="262" y="524" width="1" height="9" fill="#FFCC99"/>
<rect x="263" y="524" width="1" height="25" fill="#FFCC99"/>
<rect x="264" y="516" width="1" height="17" fill="#FFCC99"/>
<rect x="265" y="452" width="1" height="41" fill="#FFCC99"/>
<rect x="266" y="468" width="1" height="33" fill="#FFCC99"/>
<rect x="267" y="468" width="1" height="33" fill="#FFCC99"/>
<rect x="268" y="420" width="1" height="65" fill="#FFCC99"/>
<rect x="269" y="428" width="1" height="65" fill="#FFCC99"/>
<rect x="270" y="460" width="1" height="41" fill="#FFCC99"/>
<rect x="271" y="460" width="1" height="49" fill="#FFCC99"/>
<rect x="272" y="452" width="1" height="57" fill="#FFCC99"/>
<rect x="273" y="452" width="1" height="41" fill="#FFCC99"/>
<rect x="274" y="492" width="1" height="25" fill="#FFCC99"/>
<rect x="275" y="484" width="1" height="25" fill="#FFCC99"/>
<rect x="276" y="492" width="1" height="17" fill="#FFCC99"/>
<rect x="277" y="388" width="1" height="57" fill="#FFCC99"/>
<rect x="278" y="388" width="1" height="97" fill="#FFCC99"/>
<rect x="279" y="396" width="1" height="89" fill="#FFCC99"/>
<rect x="280" y="420" width="1" height="33" fill="#FFCC99"/>
<rect x="281" y="428" width="1" height="25" fill="#FFCC99"/>
<rect x="282" y="428" width="1" height="33" fill="#FFCC99"/>
<rect x="283" y="420" width="1" height="49" fill="#FFCC99"/>
<rect x="284" y="436" width="1" height="57" fill="#FFCC99"/>
<rect x="285" y="436" width="1" height="57" fill="#FFCC99"/>
<rect x="286" y="436" width="1" height="65" fill="#FFCC99"/>
<rect x="287" y="436" width="1" height="41" fill="#FFCC99"/>
<rect x="288" y="436" width="1" height="49" fill="#FFCC99"/>
<rect x="289" y="428" width="1" height="65" fill="#FFCC99"/>
<rect x="290" y="420" width="1" height="57" fill="#FFCC99"/>
<rect x="291" y="476" width="1" height="41" fill="#FFCC99"/>
<rect x="292" y="484" width="1" height="33" fill="#FFCC99"/>
<rect x="293" y="460" width="1" height="65" fill="#FFCC99"/>
<rect x="294" y="476" width="1" height="57" fill="#FFCC99"/>
<rect x="295" y="476" width="1" height="49" fill="#FFCC99"/>
<rect x="296" y="492" width="1" height="33" fill="#FFCC99"/>
<rect x="297" y="492" width="1" height="49" fill="#FFCC99"/>
<rect x="298" y="460" width="1" height="73" fill="#FFCC99"/>
<rect x="299" y="508" width="1" height="25" fill="#FFCC99"/>
<rect x="300" y="492" width="1" height="41" fill="#FFCC99"/>
<rect x="301" y="508" width="1" height="33" fill="#FFCC99"/>
<rect x="302" y="500" width="1" height="41" fill="#FFCC99"/>
<rect x="303" y="524" width="1" height="25" fill="#FFCC99"/>
<rect x="304" y="524" width="1" height="25" fill="#FFCC99"/>
<rect x="305" y="524" width="1" height="25" fill="#FFCC99"/>
<rect x="306" y="492" width="1" height="17" fill="#FFCC99"/>
<rect x="307" y="484" width="1" height="17" fill="#FFCC99"/>
<rect x="308" y="492" width="1" height="17" fill="#FFCC99"/>
<rect x="309" y="484" width="1" height="33" fill="#FFCC99"/>
<rect x="310" y="484" width="1" height="33" fill="#FFCC99"/>
<rect x="311" y="476" width="1" height="41" fill="#FFCC99"/>
<rect x="312" y="484" width="1" height="33" fill="#FFCC99"/>
<rect x="313" y="492" width="1" height="33" fill="#FFCC99"/>
<rect x="314" y="500" width="1" height="25" fill="#FFCC99"/>
<rect x="315" y="516" width="1" height="33" fill="#FFCC99"/>
<rect x="316" y="516" width="1" height="25" fill="#FFCC99"/>
<rect x="317" y="524" width="1" height="25" fill="#FFCC99"/>
<rect x="318" y="524" width="1" height="17" fill="#FFCC99"/>
<rect x="319" y="508" width="1" height="33" fill="#FFCC99"/>
<rect x="320" y="508" width="1" height="33" fill="#FFCC99"/>
<rect x="321" y="524" width="1" height="17" fill="#FFCC99"/>
<rect x="322" y="532" width="1" height="17" fill="#FFCC99"/>
<rect x="323" y="532" width="1" height="17" fill="#FFCC99"/>
<rect x="324" y="524" width="1" height="17" fill="#FFCC99"/>
<rect x="325" y="516" width="1" height="17" fill="#FFCC99"/>
<rect x="326" y="516" width="1" height="25" fill="#FFCC99"/>
<rect x="327" y="460" width="1" height="33" fill="#FFCC99"/>
<rect x="328" y="452" width="1" height="41" fill="#FFCC99"/>
<rect x="329" y="428" width="1" height="65" fill="#FFCC99"/>
<rect x="330" y="428" width="1" height="57" fill="#FFCC99"/>
<rect x="331" y="404" width="1" height="73" fill="#FFCC99"/>
<rect x="332" y="444" width="1" height="49" fill="#FFCC99"/>
<rect x="333" y="460" width="1" height="33" fill="#FFCC99"/>
<rect x="334" y="460" width="1" height="49" fill="#FFCC99"/>
<rect x="335" y="452" width="1" height="49" fill="#FFCC99"/>
<rect x="336" y="460" width="1" height="57" fill="#FFCC99"/>
<rect x="337" y="476" width="1" height="33" fill="#FFCC99"/>
<rect x="338" y="452" width="1" height="49" fill="#FFCC99"/>
<rect x="339" y="452" width="1" height="73" fill="#FFCC99"/>
<rect x="340" y="460" width="1" height="49" fill="#FFCC99"/>
<rect x="341" y="460" width="1" height="65" fill="#FFCC99"/>
<rect x="342" y="452" width="1" height="65" fill="#FFCC99"/>
<rect x="343" y="452" width="1" height="65" fill="#FFCC99"/>
<rect x="344" y="452" width="1" height="65" fill="#FFCC99"/>
<rect x="345" y="420" width="1" height="97" fill="#FFCC99"/>
<rect x="346" y="516" width="1" height="17" fill="#FFCC99"/>
<rect x="347" y="516" width="1" height="25" fill="#FFCC99"/>
<rect x="348" y="532" width="1" height="9" fill="#FFCC99"/>
<rect x="349" y="532" width="1" height="9" fill="#FFCC99"/>
<rect x="350" y="532" width="1" height="17" fill="#FFCC99"/>
<rect x="351" y="532" width="1" height="17" fill="#FFCC99"/>
<rect x="352" y="540" width="1" height="9" fill="#FFCC99"/>
<rect x="353" y="500" width="1" height="33" fill="#FFCC99"/>
<rect x="354" y="508" width="1" height="17" fill="#FFCC99"/>
<rect x="355" y="492" width="1" height="33" fill="#FFCC99"/>
<rect x="356" y="524" width="1" height="17" fill="#FFCC99"/>
<rect x="357" y="524" width="1" height="9" fill="#FFCC99"/>
<rect x="358" y="524" width="1" height="17" fill="#FFCC99"/>
<rect x="359" y="524" width="1" height="17" fill="#FFCC99"/>
<rect x="360" y="532" width="1" height="17" fill="#FFCC99"/>
<rect x="361" y="540" width="1" height="9" fill="#FFCC99"/>
<rect x="362" y="540" width="1" height="9" fill="#FFCC99"/>
<rect x="363" y="532" width="1" height="17" fill="#FFCC99"/>
<rect x="364" y="540" width="1" height="9" fill="#FFCC99"/>
<rect x="365" y="540" width="1" height="9" fill="#FFCC99"/>
<rect x="366" y="532" width="1" height="17" fill="#FFCC99"/>
<rect x="367" y="524" width="1" height="25" fill="#FFCC99"/>
<rect x="368" y="524" width="1" height="25" fill="#FFCC99"/>
<rect x="369" y="476" width="1" height="41" fill="#FFCC99"/>
<rect x="370" y="484" width="1" height="41" fill="#FFCC99"/>
<rect x="371" y="476" width="1" height="41" fill="#FFCC99"/>
<rect x="372" y="484" width="1" height="41" fill="#FFCC99"/>
<rect x="373" y="492" width="1" height="33" fill="#FFCC99"/>
<rect x="374" y="524" width="1" height="25" fill="#FFCC99"/>
<rect x="375" y="532" width="1" height="17" fill="#FFCC99"/>
<rect x="376" y="556" width="1" height="1" fill="#FFCC99"/>
<rect x="377" y="556" width="1" height="1" fill="#FFCC99"/>
<rect x="378" y="556" width="1" height="1" fill="#FFCC99"/>
<rect x="379" y="556" width="1" height="1" fill="#FFCC99"/>
<rect x="380" y="556" width="1" height="1" fill="#FFCC99"/>
<rect x="381" y="540" width="1" height="17" fill="#FFCC99"/>
<rect x="382" y="540" width="1" height="17" fill="#FFCC99"/>
<rect x="383" y="540" width="1" height="17" fill="#FFCC99"/>
<rect x="384" y="540" width="1" height="9" fill="#FFCC99"/>
<rect x="385" y="540" width="1" height="9" fill="#FFCC99"/>
<rect x="386" y="532" width="1" height="9" fill="#FFCC99"/>
<rect x="387" y="532" width="1" height="17" fill="#FFCC99"/>
<rect x="388" y="532" width="1" height="9" fill="#FFCC99"/>
<rect x="389" y="532" width="1" height="17" fill="#FFCC99"/>
<rect x="390" y="548" width="1" height="9" fill="#FFCC99"/>
<rect x="391" y="548" width="1" height="9" fill="#FFCC99"/>
<rect x="392" y="548" width="1" height="9" fill="#FFCC99"/>
<rect x="393" y="548" width="1" height="9" fill="#FFCC99"/>
<rect x="394" y="532" width="1" height="9" fill="#FFCC99"/>
<rect x="395" y="532" width="1" height="9" fill="#FFCC99"/>
<rect x="396" y="532" width="1" height="17" fill="#FFCC99"/>
<rect x="397" y="524" width="1" height="25" fill="#FFCC99"/>
<rect x="398" y="516" width="1" height="17" fill="#FFCC99"/>
<rect x="399" y="484" width="1" height="41" fill="#FFCC99"/>
<rect x="400" y="492" width="1" height="33" fill="#FFCC99"/>
<rect x="401" y="460" width="1" height="65" fill="#FFCC99"/>
<rect x="402" y="460" width="1" height="57" fill="#FFCC99"/>
<rect x="403" y="508" width="1" height="25" fill="#FFCC99"/>
<rect x="404" y="484" width="1" height="49" fill="#FFCC99"/>
<rect x="405" y="548" width="1" height="9" fill="#FFCC99"/>
<rect x="406" y="548" width="1" height="9" fill="#FFCC99"/>
<rect x="407" y="548" width="1" height="9" fill="#FFCC99"/>
<rect x="408" y="548" width="1" height="9" fill="#FFCC99"/>
<rect x="409" y="548" width="1" height="9" fill="#FFCC99"/>
<rect x="410" y="548" width="1" height="9" fill="#FFCC99"/>
<rect x="411" y="548" width="1" height="9" fill="#FFCC99"/>
<rect x="412" y="500" width="1" height="33" fill="#FFCC99"/>
<rect x="413" y="508" width="1" height="33" fill="#FFCC99"/>
<rect x="414" y="500" width="1" height="41" fill="#FFCC99"/>
<rect x="415" y="492" width="1" height="41" fill="#FFCC99"/>
<rect x="416" y="508" width="1" height="25" fill="#FFCC99"/>
<rect x="417" y="508" width="1" height="17" fill="#FFCC99"/>
<rect x="418" y="476" width="1" height="49" fill="#FFCC99"/>
<rect x="419" y="476" width="1" height="33" fill="#FFCC99"/>
<rect x="420" y="492" width="1" height="17" fill="#FFCC99"/>
<rect x="421" y="532" width="1" height="17" fill="#FFCC99"/>
<rect x="422" y="540" width="1" height="17" fill="#FFCC99"/>
<rect x="423" y="532" width="1" height="17" fill="#FFCC99"/>
<rect x="424" y="532" width="1" height="17" fill="#FFCC99"/>
<rect x="425" y="532" width="1" height="9" fill="#FFCC99"/>
<rect x="426" y="532" width="1" height="17" fill="#FFCC99"/>
<rect x="427" y="484" width="1" height="17" fill="#FFCC99"/>
<rect x="428" y="476" width="1" height="17" fill="#FFCC99"/>
<rect x="429" y="476" width="1" height="17" fill="#FFCC99"/>
<rect x="430" y="484" width="1" height="17" fill="#FFCC99"/>
<rect x="431" y="484" width="1" height="17" fill="#FFCC99"/>
<rect x="432" y="532" width="1" height="9" fill="#FFCC99"/>
<rect x="433" y="532" width="1" height="9" fill="#FFCC99"/>
<rect x="434" y="532" width="1" height="17" fill="#FFCC99"/>
<rect x="435" y="540" width="1" height="9" fill="#FFCC99"/>
<rect x="436" y="532" width="1" height="17" fill="#FFCC99"/>
<rect x="437" y="540" width="1" height="17" fill="#FFCC99"/>
<rect x="438" y="540" width="1" height="9" fill="#FFCC99"/>
<rect x="439" y="532" width="1" height="17" fill="#FFCC99"/>
<rect x="440" y="540" width="1" height="9" fill="#FFCC99"/>
<rect x="441" y="540" width="1" height="9" fill="#FFCC99"/>
<rect x="442" y="492" width="1" height="41" fill="#FFCC99"/>
<rect x="443" y="484" width="1" height="33" fill="#FFCC99"/>
<rect x="444" y="492" width="1" height="25" fill="#FFCC99"/>
<rect x="445" y="476" width="1" height="33" fill="#FFCC99"/>
<rect x="446" y="468" width="1" height="33" fill="#FFCC99"/>
<rect x="447" y="476" width="1" height="41" fill="#FFCC99"/>
<rect x="448" y="492" width="1" height="25" fill="#FFCC99"/>
<rect x="449" y="484" width="1" height="33" fill="#FFCC99"/>
<rect x="450" y="492" width="1" height="33" fill="#FFCC99"/>
<rect x="451" y="476" width="1" height="41" fill="#FFCC99"/>
<rect x="452" y="476" width="1" height="41" fill="#FFCC99"/>
<rect x="453" y="476" width="1" height="49" fill="#FFCC99"/>
<rect x="454" y="484" width="1" height="41" fill="#FFCC99"/>
<rect x="455" y="476" width="1" height="41" fill="#FFCC99"/>
<rect x="456" y="484" width="1" height="49" fill="#FFCC99"/>
<rect x="457" y="476" width="1" height="41" fill="#FFCC99"/>
<rect x="458" y="476" width="1" height="41" fill="#FFCC99"/>
<rect x="459" y="476" width="1" height="49" fill="#FFCC99"/>
<rect x="460" y="476" width="1" height="49" fill="#FFCC99"/>
<rect x="461" y="484" width="1" height="41" fill="#FFCC99"/>
<rect x="462" y="492" width="1" height="33" fill="#FFCC99"/>
<rect x="463" y="476" width="1" height="57" fill="#FFCC99"/>
<rect x="464" y="484" width="1" height="41" fill="#FFCC99"/>
<rect x="465" y="476" width="1" height="41" fill="#FFCC99"/>
<rect x="466" y="484" width="1" height="41" fill="#FFCC99"/>
<rect x="467" y="492" width="1" height="33" fill="#FFCC99"/>
<rect x="468" y="500" width="1" height="33" fill="#FFCC99"/>
<rect x="469" y="500" width="1" height="41" fill="#FFCC99"/>
<rect x="470" y="524" width="1" height="17" fill="#FFCC99"/>
<rect x="471" y="524" width="1" height="9" fill="#FFCC99"/>
<rect x="472" y="524" width="1" height="9" fill="#FFCC99"/>
<rect x="473" y="492" width="1" height="25" fill="#FFCC99"/>
<rect x="474" y="500" width="1" height="25" fill="#FFCC99"/>
<rect x="475" y="484" width="1" height="33" fill="#FFCC99"/>
<rect x="476" y="468" width="1" height="33" fill="#FFCC99"/>
<rect x="477" y="484" width="1" height="17" fill="#FFCC99"/>
<rect x="478" y="492" width="1" height="25" fill="#FFCC99"/>
<rect x="479" y="500" width="1" height="33" fill="#FFCC99"/>
<rect x="480" y="540" width="1" height="9" fill="#FFCC99"/>
<rect x="481" y="540" width="1" height="9" fill="#FFCC99"/>
<rect x="482" y="540" width="1" height="17" fill="#FFCC99"/>
<rect x="483" y="524" width="1" height="25" fill="#FFCC99"/>
<rect x="484" y="524" width="1" height="9" fill="#FFCC99"/>
<rect x="485" y="524" width="1" height="9" fill="#FFCC99"/>
<rect x="486" y="452" width="1" height="65" fill="#FFCC99"/>
<rect x="487" y="460" width="1" height="73" fill="#FFCC99"/>
<rect x="488" y="396" width="1" height="97" fill="#FFCC99"/>
<rect x="489" y="436" width="1" height="73" fill="#FFCC99"/>
<rect x="490" y="396" width="1" height="97" fill="#FFCC99"/>
<rect x="491" y="444" width="1" height="57" fill="#FFCC99"/>
<rect x="492" y="460" width="1" height="41" fill="#FFCC99"/>
<rect x="493" y="468" width="1" height="33" fill="#FFCC99"/>
<rect x="494" y="476" width="1" height="41" fill="#FFCC99"/>
<rect x="495" y="484" width="1" height="33" fill="#FFCC99"/>
<rect x="496" y="476" width="1" height="41" fill="#FFCC99"/>
<rect x="497" y="484" width="1" height="33" fill="#FFCC99"/>
<rect x="498" y="476" width="1" height="41" fill="#FFCC99"/>
<rect x="499" y="476" width="1" height="33" fill="#FFCC99"/>
<rect x="500" y="468" width="1" height="33" fill="#FFCC99"/>
<rect x="501" y="476" width="1" height="17" fill="#FFCC99"/>
<rect x="502" y="468" width="1" height="25" fill="#FFCC99"/>
<rect x="503" y="444" width="1" height="41" fill="#FFCC99"/>
<rect x="504" y="420" width="1" height="57" fill="#FFCC99"/>
<rect x="505" y="468" width="1" height="41" fill="#FFCC99"/>
<rect x="506" y="460" width="1" height="33" fill="#FFCC99"/>
<rect x="507" y="476" width="1" height="49" fill="#FFCC99"/>
<rect x="508" y="460" width="1" height="57" fill="#FFCC99"/>
<rect x="509" y="532" width="1" height="1" fill="#FFCC99"/>
<rect x="510" y="532" width="1" height="9" fill="#FFCC99"/>
<rect x="511" y="532" width="1" height="1" fill="#FFCC99"/>
<rect x="66" y="532" width="1" height="26" fill="#FF9900"/>
<rect x="67" y="540" width="1" height="18" fill="#FF9900"/>
<rect x="68" y="540" width="1" height="18" fill="#FF9900"/>
<rect x="69" y="540" width="1" height="18" fill="#FF9900"/>
<rect x="70" y="548" width="1" height="10" fill="#FF9900"/>
<rect x="71" y="508" width="1" height="50" fill="#FF9900"/>
<rect x="72" y="516" width="1" height="42" fill="#FF9900"/>
<rect x="73" y="508" width="1" height="50" fill="#FF9900"/>
<rect x="74" y="532" width="1" height="26" fill="#FF9900"/>
<rect x="75" y="524" width="1" height="34" fill="#FF9900"/>
<rect x="76" y="516" width="1" height="34" fill="#FF9900"/>
<rect x="77" y="524" width="1" height="26" fill="#FF9900"/>
<rect x="78" y="524" width="1" height="34" fill="#FF9900"/>
<rect x="79" y="532" width="1" height="26" fill="#FF9900"/>
<rect x="80" y="516" width="1" height="26" fill="#FF9900"/>
<rect x="81" y="516" width="1" height="26" fill="#FF9900"/>
<rect x="82" y="532" width="1" height="26" fill="#FF9900"/>
<rect x="83" y="532" width="1" height="26" fill="#FF9900"/>
<rect x="84" y="524" width="1" height="18" fill="#FF9900"/>
<rect x="85" y="516" width="1" height="42" fill="#FF9900"/>
<rect x="86" y="524" width="1" height="18" fill="#FF9900"/>
<rect x="87" y="532" width="1" height="10" fill="#FF9900"/>
<rect x="88" y="532" width="1" height="10" fill="#FF9900"/>
<rect x="89" y="524" width="1" height="18" fill="#FF9900"/>
<rect x="90" y="508" width="1" height="34" fill="#FF9900"/>
<rect x="91" y="508" width="1" height="34" fill="#FF9900"/>
<rect x="92" y="516" width="1" height="26" fill="#FF9900"/>
<rect x="93" y="524" width="1" height="18" fill="#FF9900"/>
<rect x="94" y="532" width="1" height="18" fill="#FF9900"/>
<rect x="95" y="524" width="1" height="26" fill="#FF9900"/>
<rect x="96" y="524" width="1" height="26" fill="#FF9900"/>
<rect x="97" y="524" width="1" height="26" fill="#FF9900"/>
<rect x="98" y="532" width="1" height="10" fill="#FF9900"/>
<rect x="99" y="532" width="1" height="10" fill="#FF9900"/>
<rect x="100" y="532" width="1" height="18" fill="#FF9900"/>
<rect x="101" y="468" width="1" height="58" fill="#FF9900"/>
<rect x="102" y="476" width="1" height="50" fill="#FF9900"/>
<rect x="103" y="452" width="1" height="74" fill="#FF9900"/>
<rect x="104" y="476" width="1" height="42" fill="#FF9900"/>
<rect x="105" y="484" width="1" height="34" fill="#FF9900"/>
<rect x="106" y="476" width="1" height="42" fill="#FF9900"/>
<rect x="107" y="524" width="1" height="26" fill="#FF9900"/>
<rect x="108" y="492" width="1" height="58" fill="#FF9900"/>
<rect x="109" y="532" width="1" height="26" fill="#FF9900"/>
<rect x="110" y="540" width="1" height="18" fill="#FF9900"/>
<rect x="111" y="540" width="1" height="18" fill="#FF9900"/>
<rect x="112" y="540" width="1" height="18" fill="#FF9900"/>
<rect x="113" y="500" width="1" height="34" fill="#FF9900"/>
<rect x="114" y="508" width="1" height="26" fill="#FF9900"/>
<rect x="115" y="500" width="1" height="34" fill="#FF9900"/>
<rect x="116" y="500" width="1" height="26" fill="#FF9900"/>
<rect x="117" y="508" width="1" height="18" fill="#FF9900"/>
<rect x="118" y="500" width="1" height="26" fill="#FF9900"/>
<rect x="119" y="500" width="1" height="34" fill="#FF9900"/>
<rect x="120" y="492" width="1" height="42" fill="#FF9900"/>
<rect x="121" y="500" width="1" height="34" fill="#FF9900"/>
<rect x="122" y="492" width="1" height="42" fill="#FF9900"/>
<rect x="123" y="492" width="1" height="42" fill="#FF9900"/>
<rect x="124" y="492" width="1" height="42" fill="#FF9900"/>
<rect x="125" y="484" width="1" height="50" fill="#FF9900"/>
<rect x="126" y="508" width="1" height="26" fill="#FF9900"/>
<rect x="127" y="500" width="1" height="34" fill="#FF9900"/>
<rect x="128" y="508" width="1" height="26" fill="#FF9900"/>
<rect x="129" y="500" width="1" height="34" fill="#FF9900"/>
<rect x="130" y="508" width="1" height="18" fill="#FF9900"/>
<rect x="131" y="508" width="1" height="18" fill="#FF9900"/>
<rect x="132" y="516" width="1" height="10" fill="#FF9900"/>
<rect x="133" y="500" width="1" height="26" fill="#FF9900"/>
<rect x="134" y="492" width="1" height="42" fill="#FF9900"/>
<rect x="135" y="492" width="1" height="42" fill="#FF9900"/>
<rect x="136" y="492" width="1" height="42" fill="#FF9900"/>
<rect x="137" y="508" width="1" height="42" fill="#FF9900"/>
<rect x="138" y="516" width="1" height="34" fill="#FF9900"/>
<rect x="139" y="500" width="1" height="50" fill="#FF9900"/>
<rect x="140" y="524" width="1" height="26" fill="#FF9900"/>
<rect x="141" y="516" width="1" height="34" fill="#FF9900"/>
<rect x="142" y="516" width="1" height="34" fill="#FF9900"/>
<rect x="143" y="524" width="1" height="26" fill="#FF9900"/>
<rect x="144" y="500" width="1" height="50" fill="#FF9900"/>
<rect x="145" y="524" width="1" height="26" fill="#FF9900"/>
<rect x="146" y="508" width="1" height="42" fill="#FF9900"/>
<rect x="147" y="492" width="1" height="34" fill="#FF9900"/>
<rect x="148" y="484" width="1" height="42" fill="#FF9900"/>
<rect x="149" y="476" width="1" height="42" fill="#FF9900"/>
<rect x="150" y="476" width="1" height="42" fill="#FF9900"/>
<rect x="151" y="476" width="1" height="42" fill="#FF9900"/>
<rect x="152" y="468" width="1" height="58" fill="#FF9900"/>
<rect x="153" y="468" width="1" height="58" fill="#FF9900"/>
<rect x="154" y="484" width="1" height="42" fill="#FF9900"/>
<rect x="155" y="492" width="1" height="34" fill="#FF9900"/>
<rect x="156" y="500" width="1" height="26" fill="#FF9900"/>
<rect x="157" y="492" width="1" height="34" fill="#FF9900"/>
<rect x="158" y="508" width="1" height="18" fill="#FF9900"/>
<rect x="159" y="476" width="1" height="42" fill="#FF9900"/>
<rect x="160" y="500" width="1" height="18" fill="#FF9900"/>
<rect x="161" y="476" width="1" height="42" fill="#FF9900"/>
<rect x="162" y="476" width="1" height="42" fill="#FF9900"/>
<rect x="163" y="484" width="1" height="34" fill="#FF9900"/>
<rect x="164" y="484" width="1" height="34" fill="#FF9900"/>
<rect x="165" y="468" width="1" height="50" fill="#FF9900"/>
<rect x="166" y="500" width="1" height="26" fill="#FF9900"/>
<rect x="167" y="500" width="1" height="26" fill="#FF9900"/>
<rect x="168" y="508" width="1" height="18" fill="#FF9900"/>
<rect x="169" y="516" width="1" height="10" fill="#FF9900"/>
<rect x="170" y="524" width="1" height="18" fill="#FF9900"/>
<rect x="171" y="516" width="1" height="26" fill="#FF9900"/>
<rect x="172" y="524" width="1" height="18" fill="#FF9900"/>
<rect x="173" y="524" width="1" height="18" fill="#FF9900"/>
<rect x="174" y="516" width="1" height="26" fill="#FF9900"/>
<rect x="175" y="492" width="1" height="34" fill="#FF9900"/>
<rect x="176" y="508" width="1" height="18" fill="#FF9900"/>
<rect x="177" y="500" width="1" height="26" fill="#FF9900"/>
<rect x="178" y="500" width="1" height="26" fill="#FF9900"/>
<rect x="179" y="508" width="1" height="18" fill="#FF9900"/>
<rect x="180" y="484" width="1" height="34" fill="#FF9900"/>
<rect x="181" y="500" width="1" height="18" fill="#FF9900"/>
<rect x="182" y="484" width="1" height="34" fill="#FF9900"/>
<rect x="183" y="476" width="1" height="74" fill="#FF9900"/>
<rect x="184" y="492" width="1" height="58" fill="#FF9900"/>
<rect x="185" y="476" width="1" height="74" fill="#FF9900"/>
<rect x="186" y="516" width="1" height="34" fill="#FF9900"/>
<rect x="187" y="484" width="1" height="18" fill="#FF9900"/>
<rect x="188" y="468" width="1" height="34" fill="#FF9900"/>
<rect x="189" y="468" width="1" height="34" fill="#FF9900"/>
<rect x="190" y="460" width="1" height="42" fill="#FF9900"/>
<rect x="191" y="468" width="1" height="34" fill="#FF9900"/>
<rect x="192" y="476" width="1" height="26" fill="#FF9900"/>
<rect x="193" y="484" width="1" height="34" fill="#FF9900"/>
<rect x="194" y="468" width="1" height="50" fill="#FF9900"/>
<rect x="195" y="492" width="1" height="26" fill="#FF9900"/>
<rect x="196" y="484" width="1" height="34" fill="#FF9900"/>
<rect x="197" y="476" width="1" height="42" fill="#FF9900"/>
<rect x="198" y="524" width="1" height="26" fill="#FF9900"/>
<rect x="199" y="532" width="1" height="18" fill="#FF9900"/>
<rect x="200" y="516" width="1" height="34" fill="#FF9900"/>
<rect x="201" y="516" width="1" height="34" fill="#FF9900"/>
<rect x="202" y="516" width="1" height="34" fill="#FF9900"/>
<rect x="203" y="524" width="1" height="26" fill="#FF9900"/>
<rect x="204" y="508" width="1" height="18" fill="#FF9900"/>
<rect x="205" y="500" width="1" height="26" fill="#FF9900"/>
<rect x="206" y="500" width="1" height="34" fill="#FF9900"/>
<rect x="207" y="500" width="1" height="34" fill="#FF9900"/>
<rect x="208" y="500" width="1" height="34" fill="#FF9900"/>
<rect x="209" y="516" width="1" height="18" fill="#FF9900"/>
<rect x="210" y="508" width="1" height="26" fill="#FF9900"/>
<rect x="211" y="524" width="1" height="10" fill="#FF9900"/>
<rect x="212" y="500" width="1" height="34" fill="#FF9900"/>
<rect x="213" y="500" width="1" height="34" fill="#FF9900"/>
<rect x="214" y="500" width="1" height="34" fill="#FF9900"/>
<rect x="215" y="508" width="1" height="26" fill="#FF9900"/>
<rect x="216" y="508" width="1" height="26" fill="#FF9900"/>
<rect x="217" y="500" width="1" height="34" fill="#FF9900"/>
<rect x="218" y="500" width="1" height="34" fill="#FF9900"/>
<rect x="219" y="508" width="1" height="26" fill="#FF9900"/>
<rect x="220" y="516" width="1" height="26" fill="#FF9900"/>
<rect x="221" y="508" width="1" height="34" fill="#FF9900"/>
<rect x="222" y="516" width="1" height="26" fill="#FF9900"/>
<rect x="223" y="524" width="1" height="10" fill="#FF9900"/>
<rect x="224" y="524" width="1" height="10" fill="#FF9900"/>
<rect x="225" y="524" width="1" height="10" fill="#FF9900"/>
<rect x="226" y="532" width="1" height="10" fill="#FF9900"/>
<rect x="227" y="532" width="1" height="10" fill="#FF9900"/>
<rect x="228" y="524" width="1" height="18" fill="#FF9900"/>
<rect x="229" y="524" width="1" height="18" fill="#FF9900"/>
<rect x="230" y="532" width="1" height="18" fill="#FF9900"/>
<rect x="231" y="532" width="1" height="18" fill="#FF9900"/>
<rect x="232" y="532" width="1" height="18" fill="#FF9900"/>
<rect x="233" y="516" width="1" height="34" fill="#FF9900"/>
<rect x="234" y="516" width="1" height="34" fill="#FF9900"/>
<rect x="235" y="524" width="1" height="26" fill="#FF9900"/>
<rect x="236" y="508" width="1" height="26" fill="#FF9900"/>
<rect x="237" y="516" width="1" height="18" fill="#FF9900"/>
<rect x="238" y="516" width="1" height="18" fill="#FF9900"/>
<rect x="239" y="516" width="1" height="26" fill="#FF9900"/>
<rect x="240" y="516" width="1" height="26" fill="#FF9900"/>
<rect x="241" y="516" width="1" height="26" fill="#FF9900"/>
<rect x="242" y="532" width="1" height="10" fill="#FF9900"/>
<rect x="243" y="532" width="1" height="10" fill="#FF9900"/>
<rect x="244" y="540" width="1" height="2" fill="#FF9900"/>
<rect x="245" y="540" width="1" height="10" fill="#FF9900"/>
<rect x="246" y="532" width="1" height="18" fill="#FF9900"/>
<rect x="247" y="540" width="1" height="10" fill="#FF9900"/>
<rect x="248" y="532" width="1" height="18" fill="#FF9900"/>
<rect x="249" y="540" width="1" height="10" fill="#FF9900"/>
<rect x="250" y="492" width="1" height="34" fill="#FF9900"/>
<rect x="251" y="508" width="1" height="18" fill="#FF9900"/>
<rect x="252" y="500" width="1" height="26" fill="#FF9900"/>
<rect x="253" y="484" width="1" height="50" fill="#FF9900"/>
<rect x="254" y="492" width="1" height="42" fill="#FF9900"/>
<rect x="255" y="476" width="1" height="58" fill="#FF9900"/>
<rect x="256" y="516" width="1" height="18" fill="#FF9900"/>
<rect x="257" y="508" width="1" height="26" fill="#FF9900"/>
<rect x="258" y="516" width="1" height="18" fill="#FF9900"/>
<rect x="259" y="532" width="1" height="26" fill="#FF9900"/>
<rect x="260" y="548" width="1" height="10" fill="#FF9900"/>
<rect x="261" y="532" width="1" height="26" fill="#FF9900"/>
<rect x="262" y="532" width="1" height="26" fill="#FF9900"/>
<rect x="263" y="548" width="1" height="10" fill="#FF9900"/>
<rect x="264" y="532" width="1" height="26" fill="#FF9900"/>
<rect x="265" y="492" width="1" height="42" fill="#FF9900"/>
<rect x="266" y="500" width="1" height="34" fill="#FF9900"/>
<rect x="267" y="500" width="1" height="34" fill="#FF9900"/>
<rect x="268" y="484" width="1" height="42" fill="#FF9900"/>
<rect x="269" y="492" width="1" height="34" fill="#FF9900"/>
<rect x="270" y="500" width="1" height="34" fill="#FF9900"/>
<rect x="271" y="508" width="1" height="26" fill="#FF9900"/>
<rect x="272" y="508" width="1" height="26" fill="#FF9900"/>
<rect x="273" y="492" width="1" height="42" fill="#FF9900"/>
<rect x="274" y="516" width="1" height="18" fill="#FF9900"/>
<rect x="275" y="508" width="1" height="26" fill="#FF9900"/>
<rect x="276" y="508" width="1" height="26" fill="#FF9900"/>
<rect x="277" y="444" width="1" height="82" fill="#FF9900"/>
<rect x="278" y="484" width="1" height="42" fill="#FF9900"/>
<rect x="279" y="484" width="1" height="42" fill="#FF9900"/>
<rect x="280" y="452" width="1" height="66" fill="#FF9900"/>
<rect x="281" y="452" width="1" height="66" fill="#FF9900"/>
<rect x="282" y="460" width="1" height="58" fill="#FF9900"/>
<rect x="283" y="468" width="1" height="50" fill="#FF9900"/>
<rect x="284" y="492" width="1" height="26" fill="#FF9900"/>
<rect x="285" y="492" width="1" height="26" fill="#FF9900"/>
<rect x="286" y="500" width="1" height="18" fill="#FF9900"/>
<rect x="287" y="476" width="1" height="42" fill="#FF9900"/>
<rect x="288" y="484" width="1" height="34" fill="#FF9900"/>
<rect x="289" y="492" width="1" height="26" fill="#FF9900"/>
<rect x="290" y="476" width="1" height="42" fill="#FF9900"/>
<rect x="291" y="516" width="1" height="26" fill="#FF9900"/>
<rect x="292" y="516" width="1" height="26" fill="#FF9900"/>
<rect x="293" y="524" width="1" height="18" fill="#FF9900"/>
<rect x="294" y="532" width="1" height="10" fill="#FF9900"/>
<rect x="295" y="524" width="1" height="18" fill="#FF9900"/>
<rect x="296" y="524" width="1" height="18" fill="#FF9900"/>
<rect x="297" y="540" width="1" height="10" fill="#FF9900"/>
<rect x="298" y="532" width="1" height="18" fill="#FF9900"/>
<rect x="299" y="532" width="1" height="18" fill="#FF9900"/>
<rect x="300" y="532" width="1" height="18" fill="#FF9900"/>
<rect x="301" y="540" width="1" height="18" fill="#FF9900"/>
<rect x="302" y="540" width="1" height="18" fill="#FF9900"/>
<rect x="303" y="548" width="1" height="10" fill="#FF9900"/>
<rect x="304" y="548" width="1" height="10" fill="#FF9900"/>
<rect x="305" y="548" width="1" height="10" fill="#FF9900"/>
<rect x="306" y="508" width="1" height="26" fill="#FF9900"/>
<rect x="307" y="500" width="1" height="34" fill="#FF9900"/>
<rect x="308" y="508" width="1" height="26" fill="#FF9900"/>
<rect x="309" y="516" width="1" height="18" fill="#FF9900"/>
<rect x="310" y="516" width="1" height="26" fill="#FF9900"/>
<rect x="311" y="516" width="1" height="26" fill="#FF9900"/>
<rect x="312" y="516" width="1" height="26" fill="#FF9900"/>
<rect x="313" y="524" width="1" height="26" fill="#FF9900"/>
<rect x="314" y="524" width="1" height="26" fill="#FF9900"/>
<rect x="315" y="548" width="1" height="10" fill="#FF9900"/>
<rect x="316" y="540" width="1" height="18" fill="#FF9900"/>
<rect x="317" y="548" width="1" height="10" fill="#FF9900"/>
<rect x="318" y="540" width="1" height="18" fill="#FF9900"/>
<rect x="319" y="540" width="1" height="18" fill="#FF9900"/>
<rect x="320" y="540" width="1" height="18" fill="#FF9900"/>
<rect x="321" y="540" width="1" height="18" fill="#FF9900"/>
<rect x="322" y="548" width="1" height="10" fill="#FF9900"/>
<rect x="323" y="548" width="1" height="10" fill="#FF9900"/>
<rect x="324" y="540" width="1" height="10" fill="#FF9900"/>
<rect x="325" y="532" width="1" height="18" fill="#FF9900"/>
<rect x="326" y="540" width="1" height="10" fill="#FF9900"/>
<rect x="327" y="492" width="1" height="34" fill="#FF9900"/>
<rect x="328" y="492" width="1" height="34" fill="#FF9900"/>
<rect x="329" y="492" width="1" height="18" fill="#FF9900"/>
<rect x="330" y="484" width="1" height="26" fill="#FF9900"/>
<rect x="331" y="476" width="1" height="34" fill="#FF9900"/>
<rect x="332" y="492" width="1" height="26" fill="#FF9900"/>
<rect x="333" y="492" width="1" height="26" fill="#FF9900"/>
<rect x="334" y="508" width="1" height="18" fill="#FF9900"/>
<rect x="335" y="500" width="1" height="26" fill="#FF9900"/>
<rect x="336" y="516" width="1" height="10" fill="#FF9900"/>
<rect x="337" y="508" width="1" height="18" fill="#FF9900"/>
<rect x="338" y="500" width="1" height="42" fill="#FF9900"/>
<rect x="339" y="524" width="1" height="18" fill="#FF9900"/>
<rect x="340" y="508" width="1" height="34" fill="#FF9900"/>
<rect x="341" y="524" width="1" height="18" fill="#FF9900"/>
<rect x="342" y="516" width="1" height="26" fill="#FF9900"/>
<rect x="343" y="516" width="1" height="34" fill="#FF9900"/>
<rect x="344" y="516" width="1" height="34" fill="#FF9900"/>
<rect x="345" y="516" width="1" height="34" fill="#FF9900"/>
<rect x="346" y="532" width="1" height="18" fill="#FF9900"/>
<rect x="347" y="540" width="1" height="10" fill="#FF9900"/>
<rect x="348" y="540" width="1" height="18" fill="#FF9900"/>
<rect x="349" y="540" width="1" height="18" fill="#FF9900"/>
<rect x="350" y="548" width="1" height="10" fill="#FF9900"/>
<rect x="351" y="548" width="1" height="10" fill="#FF9900"/>
<rect x="352" y="548" width="1" height="10" fill="#FF9900"/>
<rect x="353" y="532" width="1" height="18" fill="#FF9900"/>
<rect x="354" y="524" width="1" height="26" fill="#FF9900"/>
<rect x="355" y="524" width="1" height="26" fill="#FF9900"/>
<rect x="356" y="540" width="1" height="18" fill="#FF9900"/>
<rect x="357" y="532" width="1" height="26" fill="#FF9900"/>
<rect x="358" y="540" width="1" height="18" fill="#FF9900"/>
<rect x="359" y="540" width="1" height="18" fill="#FF9900"/>
<rect x="360" y="548" width="1" height="10" fill="#FF9900"/>
<rect x="361" y="548" width="1" height="10" fill="#FF9900"/>
<rect x="362" y="548" width="1" height="10" fill="#FF9900"/>
<rect x="363" y="548" width="1" height="10" fill="#FF9900"/>
<rect x="364" y="548" width="1" height="10" fill="#FF9900"/>
<rect x="365" y="548" width="1" height="10" fill="#FF9900"/>
<rect x="366" y="548" width="1" height="10" fill="#FF9900"/>
<rect x="367" y="548" width="1" height="10" fill="#FF9900"/>
<rect x="368" y="548" width="1" height="10" fill="#FF9900"/>
<rect x="369" y="516" width="1" height="34" fill="#FF9900"/>
<rect x="370" y="524" width="1" height="26" fill="#FF9900"/>
<rect x="371" y="516" width="1" height="26" fill="#FF9900"/>
<rect x="372" y="524" width="1" height="18" fill="#FF9900"/>
<rect x="373" y="524" width="1" height="18" fill="#FF9900"/>
<rect x="374" y="548" width="1" height="10" fill="#FF9900"/>
<rect x="375" y="548" width="1" height="10" fill="#FF9900"/>
<rect x="376" y="556" width="1" height="2" fill="#FF9900"/>
<rect x="377" y="556" width="1" height="2" fill="#FF9900"/>
<rect x="378" y="556" width="1" height="2" fill="#FF9900"/>
<rect x="379" y="556" width="1" height="2" fill="#FF9900"/>
<rect x="380" y="556" width="1" height="2" fill="#FF9900"/>
<rect x="381" y="556" width="1" height="2" fill="#FF9900"/>
<rect x="382" y="556" width="1" height="2" fill="#FF9900"/>
<rect x="383" y="556" width="1" height="2" fill="#FF9900"/>
<rect x="384" y="548" width="1" height="10" fill="#FF9900"/>
<rect x="385" y="548" width="1" height="10" fill="#FF9900"/>
<rect x="386" y="540" width="1" height="18" fill="#FF9900"/>
<rect x="387" y="548" width="1" height="10" fill="#FF9900"/>
<rect x="388" y="540" width="1" height="18" fill="#FF9900"/>
<rect x="389" y="548" width="1" height="10" fill="#FF9900"/>
<rect x="390" y="556" width="1" height="2" fill="#FF9900"/>
<rect x="391" y="556" width="1" height="2" fill="#FF9900"/>
<rect x="392" y="556" width="1" height="2" fill="#FF9900"/>
<rect x="393" y="556" width="1" height="2" fill="#FF9900"/>
<rect x="394" y="540" width="1" height="18" fill="#FF9900"/>
<rect x="395" y="540" width="1" height="18" fill="#FF9900"/>
<rect x="396" y="548" width="1" height="10" fill="#FF9900"/>
<rect x="397" y="548" width="1" height="10" fill="#FF9900"/>
<rect x="398" y="532" width="1" height="26" fill="#FF9900"/>
<rect x="399" y="524" width="1" height="26" fill="#FF9900"/>
<rect x="400" y="524" width="1" height="26" fill="#FF9900"/>
<rect x="401" y="524" width="1" height="18" fill="#FF9900"/>
<rect x="402" y="516" width="1" height="26" fill="#FF9900"/>
<rect x="403" y="532" width="1" height="18" fill="#FF9900"/>
<rect x="404" y="532" width="1" height="18" fill="#FF9900"/>
<rect x="405" y="556" width="1" height="2" fill="#FF9900"/>
<rect x="406" y="556" width="1" height="2" fill="#FF9900"/>
<rect x="407" y="556" width="1" height="2" fill="#FF9900"/>
<rect x="408" y="556" width="1" height="2" fill="#FF9900"/>
<rect x="409" y="556" width="1" height="2" fill="#FF9900"/>
<rect x="410" y="556" width="1" height="2" fill="#FF9900"/>
<rect x="411" y="556" width="1" height="2" fill="#FF9900"/>
<rect x="412" y="532" width="1" height="26" fill="#FF9900"/>
<rect x="413" y="540" width="1" height="18" fill="#FF9900"/>
<rect x="414" y="540" width="1" height="18" fill="#FF9900"/>
<rect x="415" y="532" width="1" height="26" fill="#FF9900"/>
<rect x="416" y="532" width="1" height="18" fill="#FF9900"/>
<rect x="417" y="524" width="1" height="26" fill="#FF9900"/>
<rect x="418" y="524" width="1" height="26" fill="#FF9900"/>
<rect x="419" y="508" width="1" height="42" fill="#FF9900"/>
<rect x="420" y="508" width="1" height="42" fill="#FF9900"/>
<rect x="421" y="548" width="1" height="10" fill="#FF9900"/>
<rect x="422" y="556" width="1" height="2" fill="#FF9900"/>
<rect x="423" y="548" width="1" height="10" fill="#FF9900"/>
<rect x="424" y="548" width="1" height="10" fill="#FF9900"/>
<rect x="425" y="540" width="1" height="18" fill="#FF9900"/>
<rect x="426" y="548" width="1" height="10" fill="#FF9900"/>
<rect x="427" y="500" width="1" height="42" fill="#FF9900"/>
<rect x="428" y="492" width="1" height="50" fill="#FF9900"/>
<rect x="429" y="492" width="1" height="58" fill="#FF9900"/>
<rect x="430" y="500" width="1" height="50" fill="#FF9900"/>
<rect x="431" y="500" width="1" height="50" fill="#FF9900"/>
<rect x="432" y="540" width="1" height="18" fill="#FF9900"/>
<rect x="433" y="540" width="1" height="18" fill="#FF9900"/>
<rect x="434" y="548" width="1" height="10" fill="#FF9900"/>
<rect x="435" y="548" width="1" height="10" fill="#FF9900"/>
<rect x="436" y="548" width="1" height="10" fill="#FF9900"/>
<rect x="437" y="556" width="1" height="2" fill="#FF9900"/>
<rect x="438" y="548" width="1" height="10" fill="#FF9900"/>
<rect x="439" y="548" width="1" height="10" fill="#FF9900"/>
<rect x="440" y="548" width="1" height="10" fill="#FF9900"/>
<rect x="441" y="548" width="1" height="10" fill="#FF9900"/>
<rect x="442" y="532" width="1" height="18" fill="#FF9900"/>
<rect x="443" y="516" width="1" height="34" fill="#FF9900"/>
<rect x="444" y="516" width="1" height="34" fill="#FF9900"/>
<rect x="445" y="508" width="1" height="26" fill="#FF9900"/>
<rect x="446" y="500" width="1" height="34" fill="#FF9900"/>
<rect x="447" y="516" width="1" height="18" fill="#FF9900"/>
<rect x="448" y="516" width="1" height="18" fill="#FF9900"/>
<rect x="449" y="516" width="1" height="18" fill="#FF9900"/>
<rect x="450" y="524" width="1" height="10" fill="#FF9900"/>
<rect x="451" y="516" width="1" height="26" fill="#FF9900"/>
<rect x="452" y="516" width="1" height="26" fill="#FF9900"/>
<rect x="453" y="524" width="1" height="18" fill="#FF9900"/>
<rect x="454" y="524" width="1" height="26" fill="#FF9900"/>
<rect x="455" y="516" width="1" height="34" fill="#FF9900"/>
<rect x="456" y="532" width="1" height="18" fill="#FF9900"/>
<rect x="457" y="516" width="1" height="26" fill="#FF9900"/>
<rect x="458" y="516" width="1" height="26" fill="#FF9900"/>
<rect x="459" y="524" width="1" height="18" fill="#FF9900"/>
<rect x="460" y="524" width="1" height="18" fill="#FF9900"/>
<rect x="461" y="524" width="1" height="18" fill="#FF9900"/>
<rect x="462" y="524" width="1" height="18" fill="#FF9900"/>
<rect x="463" y="532" width="1" height="10" fill="#FF9900"/>
<rect x="464" y="524" width="1" height="18" fill="#FF9900"/>
<rect x="465" y="516" width="1" height="26" fill="#FF9900"/>
<rect x="466" y="524" width="1" height="18" fill="#FF9900"/>
<rect x="467" y="524" width="1" height="34" fill="#FF9900"/>
<rect x="468" y="532" width="1" height="26" fill="#FF9900"/>
<rect x="469" y="540" width="1" height="18" fill="#FF9900"/>
<rect x="470" y="540" width="1" height="18" fill="#FF9900"/>
<rect x="471" y="532" width="1" height="26" fill="#FF9900"/>
<rect x="472" y="532" width="1" height="26" fill="#FF9900"/>
<rect x="473" y="516" width="1" height="34" fill="#FF9900"/>
<rect x="474" y="524" width="1" height="26" fill="#FF9900"/>
<rect x="475" y="516" width="1" height="18" fill="#FF9900"/>
<rect x="476" y="500" width="1" height="34" fill="#FF9900"/>
<rect x="477" y="500" width="1" height="34" fill="#FF9900"/>
<rect x="478" y="516" width="1" height="34" fill="#FF9900"/>
<rect x="479" y="532" width="1" height="18" fill="#FF9900"/>
<rect x="480" y="548" width="1" height="10" fill="#FF9900"/>
<rect x="481" y="548" width="1" height="10" fill="#FF9900"/>
<rect x="482" y="556" width="1" height="2" fill="#FF9900"/>
<rect x="483" y="548" width="1" height="10" fill="#FF9900"/>
<rect x="484" y="532" width="1" height="26" fill="#FF9900"/>
<rect x="485" y="532" width="1" height="26" fill="#FF9900"/>
<rect x="486" y="516" width="1" height="26" fill="#FF9900"/>
<rect x="487" y="532" width="1" height="10" fill="#FF9900"/>
<rect x="488" y="492" width="1" height="42" fill="#FF9900"/>
<rect x="489" y="508" width="1" height="26" fill="#FF9900"/>
<rect x="490" y="492" width="1" height="34" fill="#FF9900"/>
<rect x="491" y="500" width="1" height="26" fill="#FF9900"/>
<rect x="492" y="500" width="1" height="26" fill="#FF9900"/>
<rect x="493" y="500" width="1" height="26" fill="#FF9900"/>
<rect x="494" y="516" width="1" height="26" fill="#FF9900"/>
<rect x="495" y="516" width="1" height="26" fill="#FF9900"/>
<rect x="496" y="516" width="1" height="26" fill="#FF9900"/>
<rect x="497" y="516" width="1" height="18" fill="#FF9900"/>
<rect x="498" y="516" width="1" height="18" fill="#FF9900"/>
<rect x="499" y="508" width="1" height="26" fill="#FF9900"/>
<rect x="500" y="500" width="1" height="26" fill="#FF9900"/>
<rect x="501" y="492" width="1" height="34" fill="#FF9900"/>
<rect x="502" y="492" width="1" height="34" fill="#FF9900"/>
<rect x="503" y="484" width="1" height="34" fill="#FF9900"/>
<rect x="504" y="476" width="1" height="42" fill="#FF9900"/>
<rect x="505" y="508" width="1" height="18" fill="#FF9900"/>
<rect x="506" y="492" width="1" height="34" fill="#FF9900"/>
<rect x="507" y="524" width="1" height="18" fill="#FF9900"/>
<rect x="508" y="516" width="1" height="26" fill="#FF9900"/>
<rect x="509" y="532" width="1" height="26" fill="#FF9900"/>
<rect x="510" y="540" width="1" height="18" fill="#FF9900"/>
<rect x="511" y="532" width="1" height="26" fill="#FF9900"/>
<rect x="66" y="558" width="1" height="3" fill="#000"/>
<rect x="80" y="558" width="1" height="3" fill="#000"/>
<rect x="95" y="558" width="1" height="3" fill="#000"/>
<rect x="111" y="558" width="1" height="3" fill="#000"/>
<rect x="125" y="558" width="1" height="3" fill="#000"/>
<rect x="140" y="558" width="1" height="3" fill="#000"/>
<rect x="155" y="558" width="1" height="3" fill="#000"/>
<rect x="169" y="558" width="1" height="3" fill="#000"/>
<rect x="184" y="558" width="1" height="3" fill="#000"/>
<rect x="200" y="558" width="1" height="3" fill="#000"/>
<rect x="214" y="558" width="1" height="3" fill="#000"/>
<rect x="229" y="558" width="1" height="3" fill="#000"/>
<rect x="244" y="558" width="1" height="3" fill="#000"/>
<rect x="258" y="558" width="1" height="3" fill="#000"/>
<rect x="273" y="558" width="1" height="3" fill="#000"/>
<rect x="289" y="558" width="1" height="3" fill="#000"/>
<rect x="303" y="558" width="1" height="3" fill="#000"/>
<rect x="318" y="558" width="1" height="3" fill="#000"/>
<rect x="333" y="558" width="1" height="3" fill="#000"/>
<rect x="347" y="558" width="1" height="3" fill="#000"/>
<rect x="362" y="558" width="1" height="3" fill="#000"/>
<rect x="378" y="558" width="1" height="3" fill="#000"/>
<rect x="392" y="558" width="1" height="3" fill="#000"/>
<rect x="407" y="558" width="1" height="3" fill="#000"/>
<rect x="422" y="558" width="1" height="3" fill="#000"/>
<rect x="436" y="558" width="1" height="3" fill="#000"/>
<rect x="451" y="558" width="1" height="3" fill="#000"/>
<rect x="467" y="558" width="1" height="3" fill="#000"/>
<rect x="481" y="558" width="1" height="3" fill="#000"/>
<rect x="496" y="558" width="1" height="3" fill="#000"/>
<rect x="511" y="558" width="1" height="3" fill="#000"/>
<text x="46.33" y="360.9" font-size="10.67">2</text><text x="52.27" y="360.9" font-size="10.67">5</text>
<text x="46.33" y="400.9" font-size="10.67">2</text><text x="52.27" y="400.9" font-size="10.67">0</text>
<path d="M520,0L520,1230L190,1000L190,1185L545,1420L745,1420L745,0Z" transform="translate(46.33,440.9) scale(0.005210,-0.005210)" fill="#000" shape-rendering="auto"/><text x="52.27" y="440.9" font-size="10.67">5</text>
<path d="M520,0L520,1230L190,1000L190,1185L545,1420L745,1420L745,0Z" transform="translate(46.33,480.9) scale(0.005210,-0.005210)" fill="#000" shape-rendering="auto"/><text x="52.27" y="480.9" font-size="10.67">0</text>
<text x="52.27" y="520.9" font-size="10.67">5</text>
<text x="52.27" y="560.9" font-size="10.67">0</text>
<g transform="translate(69,565.5) rotate(-90)"><path d="M520,0L520,1230L190,1000L190,1185L545,1420L745,1420L745,0Z" transform="translate(-5.93,0) scale(0.005210,-0.005210)" fill="#000" shape-rendering="auto"/></g>
<g transform="translate(83,565.5) rotate(-90)"><text x="-5.93" y="0" font-size="10.67">2</text></g>
<g transform="translate(98,565.5) rotate(-90)"><text x="-5.93" y="0" font-size="10.67">3</text></g>
<g transform="translate(114,565.5) rotate(-90)"><text x="-5.93" y="0" font-size="10.67">4</text></g>
<g transform="translate(128,565.5) rotate(-90)"><text x="-5.93" y="0" font-size="10.67">5</text></g>
<g transform="translate(143,565.5) rotate(-90)"><text x="-5.93" y="0" font-size="10.67">6</text></g>
<g transform="translate(158,565.5) rotate(-90)"><text x="-5.93" y="0" font-size="10.67">7</text></g>
<g transform="translate(172,565.5) rotate(-90)"><text x="-5.93" y="0" font-size="10.67">8</text></g>
<g transform="translate(187,565.5) rotate(-90)"><text x="-5.93" y="0" font-size="10.67">9</text></g>
<g transform="translate(203,565.5) rotate(-90)"><path d="M520,0L520,1230L190,1000L190,1185L545,1420L745,1420L745,0Z" transform="translate(-11.87,0) scale(0.005210,-0.005210)" fill="#000" shape-rendering="auto"/><text x="-5.93" y="0" font-size="10.67">0</text></g>
<g transform="translate(217,565.5) rotate(-90)"><path d="M520,0L520,1230L190,1000L190,1185L545,1420L745,1420L745,0Z" transform="translate(-11.87,0) scale(0.005210,-0.005210)" fill="#000" shape-rendering="auto"/><path d="M520,0L520,1230L190,1000L190,1185L545,1420L745,1420L745,0Z" transform="translate(-5.93,0) scale(0.005210,-0.005210)" fill="#000" shape-rendering="auto"/></g>
<g transform="translate(232,565.5) rotate(-90)"><path d="M520,0L520,1230L190,1000L190,1185L545,1420L745,1420L745,0Z" transform="translate(-11.87,0) scale(0.005210,-0.005210)" fill="#000" shape-rendering="auto"/><text x="-5.93" y="0" font-size="10.67">2</text></g>
<g transform="translate(247,565.5) rotate(-90)"><path d="M520,0L520,1230L190,1000L190,1185L545,1420L745,1420L745,0Z" transform="translate(-11.87,0) scale(0.005210,-0.005210)" fill="#000" shape-rendering="auto"/><text x="-5.93" y="0" font-size="10.67">3</text></g>
<g transform="translate(261,565.5) rotate(-90)"><path d="M520,0L520,1230L190,1000L190,1185L545,1420L745,1420L745,0Z" transform="translate(-11.87,0) scale(0.005210,-0.005210)" fill="#000" shape-rendering="auto"/><text x="-5.93" y="0" font-size="10.67">4</text></g>
<g transform="translate(276,565.5) rotate(-90)"><path d="M520,0L520,1230L190,1000L190,1185L545,1420L745,1420L745,0Z" transform="translate(-11.87,0) scale(0.005210,-0.005210)" fill="#000" shape-rendering="auto"/><text x="-5.93" y="0" font-size="10.67">5</text></g>
<g transform="translate(292,565.5) rotate(-90)"><path d="M520,0L520,1230L190,1000L190,1185L545,1420L745,1420L745,0Z" transform="translate(-11.87,0) scale(0.005210,-0.005210)" fill="#000" shape-rendering="auto"/><text x="-5.93" y="0" font-size="10.67">6</text></g>
<g transform="translate(306,565.5) rotate(-90)"><path d="M520,0L520,1230L190,1000L190,1185L545,1420L745,1420L745,0Z" transform="translate(-11.87,0) scale(0.005210,-0.005210)" fill="#000" shape-rendering="auto"/><text x="-5.93" y="0" font-size="10.67">7</text></g>
<g transform="translate(321,565.5) rotate(-90)"><path d="M520,0L520,1230L190,1000L190,1185L545,1420L745,1420L745,0Z" transform="translate(-11.87,0) scale(0.005210,-0.005210)" fill="#000" shape-rendering="auto"/><text x="-5.93" y="0" font-size="10.67">8</text></g>
<g transform="translate(336,565.5) rotate(-90)"><path d="M520,0L520,1230L190,1000L190,1185L545,1420L745,1420L745,0Z" transform="translate(-11.87,0) scale(0.005210,-0.005210)" fill="#000" shape-rendering="auto"/><text x="-5.93" y="0" font-size="10.67">9</text></g>
<g transform="translate(350,565.5) rotate(-90)"><text x="-11.87" y="0" font-size="10.67">2</text><text x="-5.93" y="0" font-size="10.67">0</text></g>
<g transform="translate(365,565.5) rotate(-90)"><text x="-11.87" y="0" font-size="10.67">2</text><path d="M520,0L520,1230L190,1000L190,1185L545,1420L745,1420L745,0Z" transform="translate(-5.93,0) scale(0.005210,-0.005210)" fill="#000" shape-rendering="auto"/></g>
<g transform="translate(381,565.5) rotate(-90)"><text x="-11.87" y="0" font-size="10.67">2</text><text x="-5.93" y="0" font-size="10.67">2</text></g>
<g transform="translate(395,565.5) rotate(-90)"><text x="-11.87" y="0" font-size="10.67">2</text><text x="-5.93" y="0" font-size="10.67">3</text></g>
<g transform="translate(410,565.5) rotate(-90)"><text x="-11.87" y="0" font-size="10.67">2</text><text x="-5.93" y="0" font-size="10.67">4</text></g>
<g transform="translate(425,565.5) rotate(-90)"><text x="-11.87" y="0" font-size="10.67">2</text><text x="-5.93" y="0" font-size="10.67">5</text></g>
<g transform="translate(439,565.5) rotate(-90)"><text x="-11.87" y="0" font-size="10.67">2</text><text x="-5.93" y="0" font-size="10.67">6</text></g>
<g transform="translate(454,565.5) rotate(-90)"><text x="-11.87" y="0" font-size="10.67">2</text><text x="-5.93" y="0" font-size="10.67">7</text></g>
<g transform="translate(470,565.5) rotate(-90)"><text x="-11.87" y="0" font-size="10.67">2</text><text x="-5.93" y="0" font-size="10.67">8</text></g>
<g transform="translate(484,565.5) rotate(-90)"><text x="-11.87" y="0" font-size="10.67">2</text><text x="-5.93" y="0" font-size="10.67">9</text></g>
<g transform="translate(499,565.5) rotate(-90)"><text x="-11.87" y="0" font-size="10.67">3</text><text x="-5.93" y="0" font-size="10.67">0</text></g>
<text x="18.2" y="460.6" font-size="10.67" font-weight="bold" text-anchor="start" textLength="23.5" lengthAdjust="spacingAndGlyphs">mph</text>
<text x="287.3" y="592.8" font-size="10.67" font-weight="bold" text-anchor="middle" textLength="69.9" lengthAdjust="spacingAndGlyphs">day of month</text>
<rect x="522" y="442" width="96" height="38" fill="#fff"/>
<rect x="522" y="442" width="96" height="1" fill="#000"/>
<rect x="522" y="479" width="96" height="1" fill="#000"/>
<rect x="522" y="442" width="1" height="38" fill="#000"/>
<rect x="617" y="442" width="1" height="38" fill="#000"/>
<rect x="526" y="451" width="25" height="2" fill="#FFCC99"/>
<text x="559.5" y="455.9" font-size="10.67" text-anchor="start">gustspeed</text>
<rect x="526" y="469" width="25" height="2" fill="#FF9900"/>
<text x="559.5" y="473.9" font-size="10.67" text-anchor="start" textLength="53.4" lengthAdjust="spacingAndGlyphs">windspeed</text>
<rect x="63" y="672" width="452" height="202" fill="#C0C0C0"/>
<rect x="63" y="672" width="452" height="1" fill="#808080"/>
<rect x="63" y="873" width="452" height="1" fill="#808080"/>
<rect x="63" y="672" width="1" height="202" fill="#808080"/>
<rect x="514" y="672" width="1" height="202" fill="#808080"/>
<rect x="64" y="706" width="450" height="1" fill="#000"/>
<rect x="64" y="739" width="450" height="1" fill="#000"/>
<rect x="64" y="773" width="450" height="1" fill="#000"/>
<rect x="64" y="806" width="450" height="1" fill="#000"/>
<rect x="64" y="840" width="450" height="1" fill="#000"/>
<rect x="77" y="673" width="1" height="200" fill="#000"/>
<rect x="93" y="673" width="1" height="200" fill="#000"/>
<rect x="108" y="673" width="1" height="200" fill="#000"/>
<rect x="122" y="673" width="1" height="200" fill="#000"/>
<rect x="138" y="673" width="1" height="200" fill="#000"/>
<rect x="153" y="673" width="1" height="200" fill="#000"/>
<rect x="168" y="673" width="1" height="200" fill="#000"/>
<rect x="183" y="673" width="1" height="200" fill="#000"/>
<rect x="198" y="673" width="1" height="200" fill="#000"/>
<rect x="213" y="673" width="1" height="200" fill="#000"/>
<rect x="228" y="673" width="1" height="200" fill="#000"/>
<rect x="243" y="673" width="1" height="200" fill="#000"/>
<rect x="258" y="673" width="1" height="200" fill="#000"/>
<rect x="273" y="673" width="1" height="200" fill="#000"/>
<rect x="289" y="673" width="1" height="200" fill="#000"/>
<rect x="303" y="673" width="1" height="200" fill="#000"/>
<rect x="318" y="673" width="1" height="200" fill="#000"/>
<rect x="334" y="673" width="1" height="200" fill="#000"/>
<rect x="348" y="673" width="1" height="200" fill="#000"/>
<rect x="363" y="673" width="1" height="200" fill="#000"/>
<rect x="379" y="673" width="1" height="200" fill="#000"/>
<rect x="393" y="673" width="1" height="200" fill="#000"/>
<rect x="408" y="673" width="1" height="200" fill="#000"/>
<rect x="424" y="673" width="1" height="200" fill="#000"/>
<rect x="438" y="673" width="1" height="200" fill="#000"/>
<rect x="454" y="673" width="1" height="200" fill="#000"/>
<rect x="469" y="673" width="1" height="200" fill="#000"/>
<rect x="483" y="673" width="1" height="200" fill="#000"/>
<rect x="499" y="673" width="1" height="200" fill="#000"/>
<rect x="63" y="873" width="452" height="1" fill="#000"/>
<rect x="63" y="672" width="1" height="202" fill="#000"/>
<rect x="60" y="672" width="3" height="1" fill="#000"/>
<rect x="60" y="706" width="3" height="1" fill="#000"/>
<rect x="60" y="739" width="3" height="1" fill="#000"/>
<rect x="60" y="773" width="3" height="1" fill="#000"/>
<rect x="60" y="806" width="3" height="1" fill="#000"/>
<rect x="60" y="840" width="3" height="1" fill="#000"/>
<rect x="60" y="873" width="3" height="1" fill="#000"/>
<g shape-rendering="crispEdges">
<polyline points="64.5,873.0 64.5,852.0 66.0,850.0 69.0,849.3 72.5,848.0 77.9,848.0 77.9,872.0 88.0,872.0 89.0,870.8 91.3,866.8 93.0,866.8 93.5,872.0 106.9,871.3 108.0,863.0 110.2,861.9 111.4,858.6 113.6,855.7 118.5,855.2 119.8,846.3 121.4,844.7 123.0,846.3 123.2,872.0 124.7,872.0 125.2,865.3 127.0,864.6 135.5,864.6 136.4,860.8 138.1,860.1 138.6,872.0 182.8,872.0 185.0,866.4 186.1,861.5 188.4,860.8 198.4,860.8 199.0,872.0 206.2,872.0 208.4,871.3 212.9,870.4 216.2,869.3 221.8,868.6 228.0,868.6 228.5,872.0 275.4,872.0 277.2,868.6 278.7,864.1 282.1,862.6 288.3,862.6 289.2,872.0 313.3,872.0 315.6,871.3 318.5,871.3 318.9,872.0 343.4,872.0 344.5,871.5 346.0,872.0 384.7,872.0 386.9,870.4 391.4,868.2 393.2,867.5 393.9,872.0 398.1,871.5 405.9,871.5 408.1,872.0 455.4,872.0 457.6,865.0 459.4,857.3 462.0,855.8 467.5,855.8 468.6,872.0 469.8,872.0 470.9,860.6 472.0,854.0 474.2,852.9 483.0,852.9 483.6,872.0 512.7,872.0 513.4,867.2 514.3,865.0" fill="none" stroke="#00FFFF" stroke-width="2" stroke-linejoin="round" stroke-linecap="butt"/>
<polyline points="64.5,873.0 64.5,852.0 66.0,850.0 69.0,849.3 72.5,848.0 83.5,848.0 86.0,846.5 89.5,843.5 92.0,842.0 94.0,840.8 102.4,840.9 107.6,840.9 108.0,825.0 109.6,824.0 110.2,815.0 111.4,811.7 113.6,807.9 115.4,806.5 119.2,806.5 119.8,798.3 122.5,797.2 124.7,796.0 125.2,789.4 127.0,787.8 135.9,787.8 137.0,783.3 140.4,782.7 158.2,782.7 160.5,781.5 180.6,781.5 183.9,780.4 185.0,779.3 186.1,769.9 188.4,769.7 206.2,769.7 208.4,768.1 211.7,767.0 214.0,763.7 216.2,761.9 273.1,761.9 276.5,761.0 277.6,757.0 279.4,753.6 283.2,751.6 315.6,751.6 316.7,750.7 343.4,750.7 344.5,749.8 384.7,749.8 386.9,748.5 390.7,744.9 395.9,744.5 398.1,742.9 455.0,742.8 456.5,741.2 457.6,736.2 458.7,730.2 460.9,726.7 463.1,725.8 469.8,725.8 470.9,719.6 472.0,709.7 474.2,706.4 512.7,706.4 513.4,702.0 514.3,698.7" fill="none" stroke="#0000FF" stroke-width="2" stroke-linejoin="round" stroke-linecap="butt"/>
</g>
<rect x="63" y="874" width="1" height="3" fill="#000"/>
<rect x="77" y="874" width="1" height="3" fill="#000"/>
<rect x="93" y="874" width="1" height="3" fill="#000"/>
<rect x="108" y="874" width="1" height="3" fill="#000"/>
<rect x="122" y="874" width="1" height="3" fill="#000"/>
<rect x="138" y="874" width="1" height="3" fill="#000"/>
<rect x="153" y="874" width="1" height="3" fill="#000"/>
<rect x="168" y="874" width="1" height="3" fill="#000"/>
<rect x="183" y="874" width="1" height="3" fill="#000"/>
<rect x="198" y="874" width="1" height="3" fill="#000"/>
<rect x="213" y="874" width="1" height="3" fill="#000"/>
<rect x="228" y="874" width="1" height="3" fill="#000"/>
<rect x="243" y="874" width="1" height="3" fill="#000"/>
<rect x="258" y="874" width="1" height="3" fill="#000"/>
<rect x="273" y="874" width="1" height="3" fill="#000"/>
<rect x="289" y="874" width="1" height="3" fill="#000"/>
<rect x="303" y="874" width="1" height="3" fill="#000"/>
<rect x="318" y="874" width="1" height="3" fill="#000"/>
<rect x="334" y="874" width="1" height="3" fill="#000"/>
<rect x="348" y="874" width="1" height="3" fill="#000"/>
<rect x="363" y="874" width="1" height="3" fill="#000"/>
<rect x="379" y="874" width="1" height="3" fill="#000"/>
<rect x="393" y="874" width="1" height="3" fill="#000"/>
<rect x="408" y="874" width="1" height="3" fill="#000"/>
<rect x="424" y="874" width="1" height="3" fill="#000"/>
<rect x="438" y="874" width="1" height="3" fill="#000"/>
<rect x="454" y="874" width="1" height="3" fill="#000"/>
<rect x="469" y="874" width="1" height="3" fill="#000"/>
<rect x="483" y="874" width="1" height="3" fill="#000"/>
<rect x="499" y="874" width="1" height="3" fill="#000"/>
<rect x="514" y="874" width="1" height="3" fill="#000"/>
<text x="43.33" y="675.9" font-size="10.67">6</text><text x="49.27" y="675.9" font-size="10.67">0</text>
<text x="43.33" y="709.9" font-size="10.67">5</text><text x="49.27" y="709.9" font-size="10.67">0</text>
<text x="43.33" y="742.9" font-size="10.67">4</text><text x="49.27" y="742.9" font-size="10.67">0</text>
<text x="43.33" y="776.9" font-size="10.67">3</text><text x="49.27" y="776.9" font-size="10.67">0</text>
<text x="43.33" y="809.9" font-size="10.67">2</text><text x="49.27" y="809.9" font-size="10.67">0</text>
<path d="M520,0L520,1230L190,1000L190,1185L545,1420L745,1420L745,0Z" transform="translate(43.33,843.9) scale(0.005210,-0.005210)" fill="#000" shape-rendering="auto"/><text x="49.27" y="843.9" font-size="10.67">0</text>
<text x="49.27" y="876.9" font-size="10.67">0</text>
<g transform="translate(66,881.5) rotate(-90)"><path d="M520,0L520,1230L190,1000L190,1185L545,1420L745,1420L745,0Z" transform="translate(-5.93,0) scale(0.005210,-0.005210)" fill="#000" shape-rendering="auto"/></g>
<g transform="translate(80,881.5) rotate(-90)"><text x="-5.93" y="0" font-size="10.67">2</text></g>
<g transform="translate(96,881.5) rotate(-90)"><text x="-5.93" y="0" font-size="10.67">3</text></g>
<g transform="translate(111,881.5) rotate(-90)"><text x="-5.93" y="0" font-size="10.67">4</text></g>
<g transform="translate(125,881.5) rotate(-90)"><text x="-5.93" y="0" font-size="10.67">5</text></g>
<g transform="translate(141,881.5) rotate(-90)"><text x="-5.93" y="0" font-size="10.67">6</text></g>
<g transform="translate(156,881.5) rotate(-90)"><text x="-5.93" y="0" font-size="10.67">7</text></g>
<g transform="translate(171,881.5) rotate(-90)"><text x="-5.93" y="0" font-size="10.67">8</text></g>
<g transform="translate(186,881.5) rotate(-90)"><text x="-5.93" y="0" font-size="10.67">9</text></g>
<g transform="translate(201,881.5) rotate(-90)"><path d="M520,0L520,1230L190,1000L190,1185L545,1420L745,1420L745,0Z" transform="translate(-11.87,0) scale(0.005210,-0.005210)" fill="#000" shape-rendering="auto"/><text x="-5.93" y="0" font-size="10.67">0</text></g>
<g transform="translate(216,881.5) rotate(-90)"><path d="M520,0L520,1230L190,1000L190,1185L545,1420L745,1420L745,0Z" transform="translate(-11.87,0) scale(0.005210,-0.005210)" fill="#000" shape-rendering="auto"/><path d="M520,0L520,1230L190,1000L190,1185L545,1420L745,1420L745,0Z" transform="translate(-5.93,0) scale(0.005210,-0.005210)" fill="#000" shape-rendering="auto"/></g>
<g transform="translate(231,881.5) rotate(-90)"><path d="M520,0L520,1230L190,1000L190,1185L545,1420L745,1420L745,0Z" transform="translate(-11.87,0) scale(0.005210,-0.005210)" fill="#000" shape-rendering="auto"/><text x="-5.93" y="0" font-size="10.67">2</text></g>
<g transform="translate(246,881.5) rotate(-90)"><path d="M520,0L520,1230L190,1000L190,1185L545,1420L745,1420L745,0Z" transform="translate(-11.87,0) scale(0.005210,-0.005210)" fill="#000" shape-rendering="auto"/><text x="-5.93" y="0" font-size="10.67">3</text></g>
<g transform="translate(261,881.5) rotate(-90)"><path d="M520,0L520,1230L190,1000L190,1185L545,1420L745,1420L745,0Z" transform="translate(-11.87,0) scale(0.005210,-0.005210)" fill="#000" shape-rendering="auto"/><text x="-5.93" y="0" font-size="10.67">4</text></g>
<g transform="translate(276,881.5) rotate(-90)"><path d="M520,0L520,1230L190,1000L190,1185L545,1420L745,1420L745,0Z" transform="translate(-11.87,0) scale(0.005210,-0.005210)" fill="#000" shape-rendering="auto"/><text x="-5.93" y="0" font-size="10.67">5</text></g>
<g transform="translate(292,881.5) rotate(-90)"><path d="M520,0L520,1230L190,1000L190,1185L545,1420L745,1420L745,0Z" transform="translate(-11.87,0) scale(0.005210,-0.005210)" fill="#000" shape-rendering="auto"/><text x="-5.93" y="0" font-size="10.67">6</text></g>
<g transform="translate(306,881.5) rotate(-90)"><path d="M520,0L520,1230L190,1000L190,1185L545,1420L745,1420L745,0Z" transform="translate(-11.87,0) scale(0.005210,-0.005210)" fill="#000" shape-rendering="auto"/><text x="-5.93" y="0" font-size="10.67">7</text></g>
<g transform="translate(321,881.5) rotate(-90)"><path d="M520,0L520,1230L190,1000L190,1185L545,1420L745,1420L745,0Z" transform="translate(-11.87,0) scale(0.005210,-0.005210)" fill="#000" shape-rendering="auto"/><text x="-5.93" y="0" font-size="10.67">8</text></g>
<g transform="translate(337,881.5) rotate(-90)"><path d="M520,0L520,1230L190,1000L190,1185L545,1420L745,1420L745,0Z" transform="translate(-11.87,0) scale(0.005210,-0.005210)" fill="#000" shape-rendering="auto"/><text x="-5.93" y="0" font-size="10.67">9</text></g>
<g transform="translate(351,881.5) rotate(-90)"><text x="-11.87" y="0" font-size="10.67">2</text><text x="-5.93" y="0" font-size="10.67">0</text></g>
<g transform="translate(366,881.5) rotate(-90)"><text x="-11.87" y="0" font-size="10.67">2</text><path d="M520,0L520,1230L190,1000L190,1185L545,1420L745,1420L745,0Z" transform="translate(-5.93,0) scale(0.005210,-0.005210)" fill="#000" shape-rendering="auto"/></g>
<g transform="translate(382,881.5) rotate(-90)"><text x="-11.87" y="0" font-size="10.67">2</text><text x="-5.93" y="0" font-size="10.67">2</text></g>
<g transform="translate(396,881.5) rotate(-90)"><text x="-11.87" y="0" font-size="10.67">2</text><text x="-5.93" y="0" font-size="10.67">3</text></g>
<g transform="translate(411,881.5) rotate(-90)"><text x="-11.87" y="0" font-size="10.67">2</text><text x="-5.93" y="0" font-size="10.67">4</text></g>
<g transform="translate(427,881.5) rotate(-90)"><text x="-11.87" y="0" font-size="10.67">2</text><text x="-5.93" y="0" font-size="10.67">5</text></g>
<g transform="translate(441,881.5) rotate(-90)"><text x="-11.87" y="0" font-size="10.67">2</text><text x="-5.93" y="0" font-size="10.67">6</text></g>
<g transform="translate(457,881.5) rotate(-90)"><text x="-11.87" y="0" font-size="10.67">2</text><text x="-5.93" y="0" font-size="10.67">7</text></g>
<g transform="translate(472,881.5) rotate(-90)"><text x="-11.87" y="0" font-size="10.67">2</text><text x="-5.93" y="0" font-size="10.67">8</text></g>
<g transform="translate(486,881.5) rotate(-90)"><text x="-11.87" y="0" font-size="10.67">2</text><text x="-5.93" y="0" font-size="10.67">9</text></g>
<g transform="translate(502,881.5) rotate(-90)"><text x="-11.87" y="0" font-size="10.67">3</text><text x="-5.93" y="0" font-size="10.67">0</text></g>
<text x="18.2" y="769" font-size="10.67" font-weight="bold" text-anchor="start" textLength="21" lengthAdjust="spacingAndGlyphs">mm</text>
<text x="287.3" y="908.3" font-size="10.67" font-weight="bold" text-anchor="middle" textLength="69.9" lengthAdjust="spacingAndGlyphs">day of month</text>
<rect x="524" y="758" width="94" height="38" fill="#fff"/>
<rect x="524" y="758" width="94" height="1" fill="#000"/>
<rect x="524" y="795" width="94" height="1" fill="#000"/>
<rect x="524" y="758" width="1" height="38" fill="#000"/>
<rect x="617" y="758" width="1" height="38" fill="#000"/>
<rect x="528" y="766" width="25" height="2" fill="#00FFFF"/>
<text x="558" y="770.9" font-size="10.67" text-anchor="start">dailyrain</text>
<rect x="528" y="785" width="25" height="2" fill="#0000FF"/>
<text x="561.5" y="789.9" font-size="10.67" text-anchor="start" textLength="54.1" lengthAdjust="spacingAndGlyphs">monthlyrain</text>
</svg>
</body></html>
